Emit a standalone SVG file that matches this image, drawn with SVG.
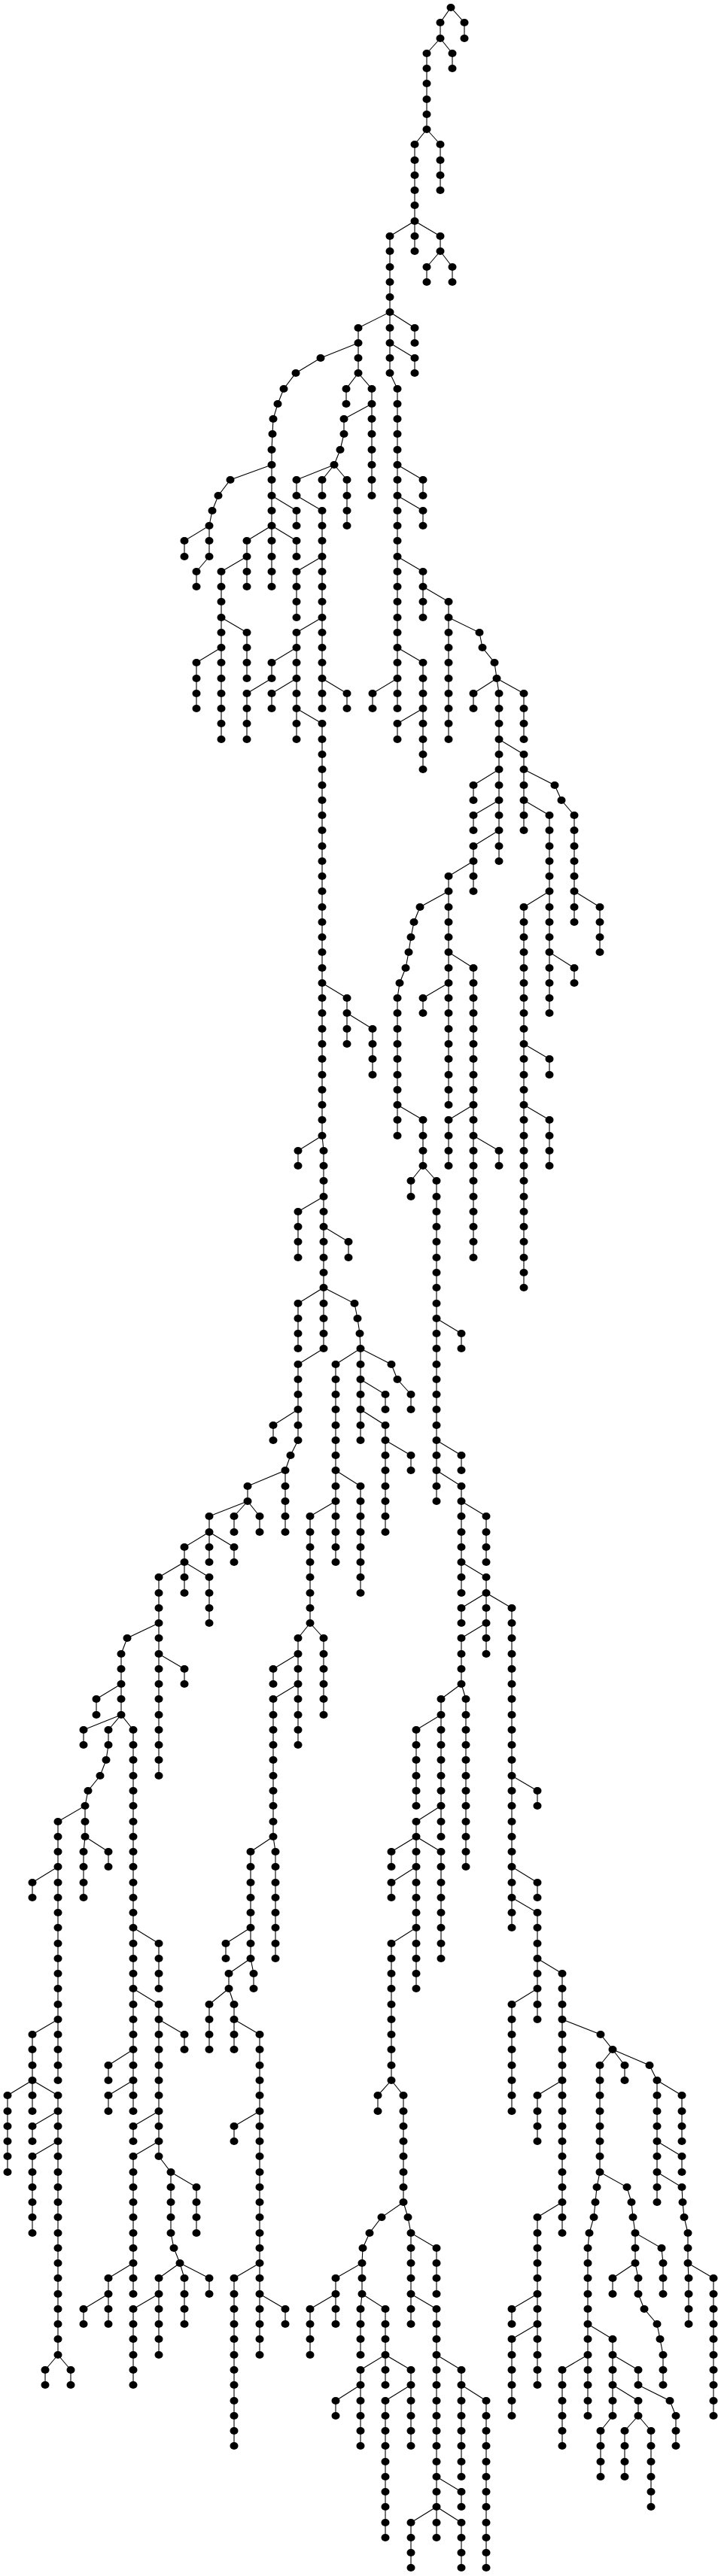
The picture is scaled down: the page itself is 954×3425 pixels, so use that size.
<svg xmlns="http://www.w3.org/2000/svg" width="954" height="3425" viewBox="0 0 954 3425">
<style>.e{fill:none;stroke:#000;stroke-width:1.1}</style>
<defs><ellipse id="d" rx="5.5" ry="5" fill="#000"/></defs>
<rect width="954" height="3425" fill="#fff"/>
<g id="connectors" class="e">
<path d="M585 30V51M617 30V51M567 71V172M601 71V91M551 192V334M585 192V253M518 314V496M585 314V334M567 355V375M601 355V375M476 436V496M551 436V456M551 476V496M361 598V780M460 517V537M494 517V659M528 517V942M457 557V577M278 699V740M245 719V740M261 760V780M394 638V659M428 638V659M461 638V699M428 679V942M394 679V699M328 719V780M394 719V740M294 760V983M394 760V821M562 638V659M562 679V699M562 760V821M596 800V983M328 841V902M261 881V942M394 841V983M361 881V902M328 922V983M361 922V942M461 922V942M562 881V1023M495 922V942M528 962V983M428 962V1510M629 922V942M663 922V1145M696 922V983M696 1003V1104M629 1044V1064M629 1084V1104M629 1125V1185M763 1084V1226M730 1084V1347M596 1165V1469M797 1206V1266M763 1287V1307M696 1206V1712M528 1327V1510M629 1287V1672M562 1327V1347M461 1327V1388M495 1368V1429M730 1408V1429M596 1489V1550M663 1530V1550M730 1489V1550M562 1489V1550M546 1570V1591M580 1570V1996M396 1530V1550M430 1530V1793M396 1611V1672M463 1651V1672M396 1733V1793M479 1793V1915M446 1814V2077M546 1854V1874M512 1854V1874M512 1895V2037M546 1935V1955M613 1773V1793M613 1935V1955M613 1976V2118M396 1814V1915M363 1895V1915M379 1955V2037M329 1976V1996M278 2016V2077M311 2016V2037M345 2016V2037M245 2057V2118M311 2057V2077M211 2097V2361M278 2097V2158M161 2199V2280M245 2219V2239M128 2259V2280M111 2300V2320M144 2300V2320M177 2300V2807M113 2401V2442M77 2422V2766M111 2462V2523M144 2462V2482M43 2503V2523M43 2705V2807M10 2786V2888M77 2786V3131M43 2827V2847M43 2867V2969M60 3151V3171M94 3151V3171M211 2584V2644M211 2665V2867M245 2705V2725M144 2746V2766M144 2786V2807M177 2827V2847M177 2867V3050M144 3029V3090M111 3070V3090M227 2888V2969M261 2908V2969M211 3029V3131M245 3029V3090M278 3029V3050M177 3070V3171M412 2016V2158M479 1976V2118M430 2178V2280M396 2178V2320M363 2219V2239M363 2259V2442M333 2462V2604M366 2462V2604M300 2584V2604M304 2624V2644M337 2624V2644M278 2665V2725M311 2665V2725M345 2705V3131M311 2827V2847M311 3029V3252M379 3070V3090M646 2016V2077M613 2138V2158M646 2097V2199M680 2138V2563M613 2178V2239M586 2259V2442M619 2259V2482M553 2300V2401M553 2422V2644M520 2462V2482M586 2462V2604M520 2503V2523M520 2584V2766M502 2786V2807M536 2786V2928M714 2381V2401M714 2503V2523M714 2543V2685M747 2624V2969M680 2665V2807M714 2786V2847M714 2948V3171M680 3070V3090M680 3110V3212M797 2746V2888M830 2746V2766M873 2766V2928M906 2786V2847M906 2867V2888M914 2969V3009M915 3029V3090M948 3029V3212M781 2989V3212M814 3110V3212M848 3151V3171M898 3212V3252M848 3192V3212M830 3232V3293M865 3232V3333M798 3232V3293M747 3151V3252M844 2969V3009M881 3009V3050M814 3029V3050M848 3029V3050M881 3131V3171M481 3009V3050M446 3029V3090M412 3070V3131M479 3070V3131M512 3070V3171M479 3151V3252M446 3192V3212M546 3151V3252M512 3192V3374M546 2969V3090M580 2989V3050M580 3070V3374M613 3151V3293M646 3192V3414M613 3313V3333M546 3354V3414M613 3354V3414"/>
<path d="M585 30L599 10L617 30M567 71L585 51L601 71M551 192L567 172L585 192M518 314L551 294L585 314M567 355L585 334L601 355M476 436L518 415L551 436M518 456L551 476M518 496L528 517M476 456L426 476L393 496L377 517L369 537L363 557L362 577L361 598M460 517L476 496L494 517M494 537L457 557M457 577L452 598L444 618M361 618L306 638L290 659L282 679L278 699L245 719M278 740L261 760M361 659L394 679M328 719L361 699L394 719M328 740L294 760M394 638L444 618L428 638M444 618L461 638M394 659L428 679M428 740L394 760M428 821L394 841M294 821L328 841M294 861L261 881M394 861L361 881M361 902L328 922M394 902L361 922M394 942L428 962M428 902L461 922M528 618L562 638M528 659L562 679M528 740L562 760M562 780L596 800M596 821L637 841L641 861L657 881L660 902M528 861L562 881M528 902L495 922M562 942L528 962M629 922L660 902L663 922M660 902L696 922M663 983L696 1003M663 1023L629 1044M663 1064L629 1084M663 1104L629 1125M696 1023L737 1044L746 1064L763 1084M696 1064L730 1084M763 1185L797 1206M730 1185L696 1206M730 1266L763 1287M629 1145L596 1165M596 1185L558 1206L550 1226L546 1246L543 1266L539 1287L531 1307L528 1327M596 1266L629 1287M596 1307L562 1327M428 1307L461 1327M461 1347L495 1368M696 1388L730 1408M696 1469L730 1489M629 1469L596 1489M629 1510L663 1530M528 1469L562 1489M546 1570L562 1550L580 1570M396 1530L428 1510L430 1530M430 1591L396 1611M430 1631L463 1651M396 1733L430 1712L471 1733L475 1753L478 1773L479 1793L446 1814M479 1793L520 1814L528 1834L546 1854M479 1834L512 1854M479 1874L512 1895M512 1915L546 1935M580 1753L613 1773M580 1915L613 1935M580 1955L613 1976M430 1793L396 1814M396 1874L363 1895M396 1915L386 1935L379 1955L329 1976M278 2016L329 1996L311 2016M329 1996L345 2016M245 2057L278 2037L311 2057M211 2097L245 2077L278 2097M211 2158L169 2178L161 2199M211 2199L245 2219M161 2239L128 2259M111 2300L161 2280L144 2300M161 2280L177 2300M144 2320L141 2340L133 2361L117 2381L113 2401L77 2422M111 2462L113 2442L144 2462M77 2482L43 2503M77 2685L43 2705M10 2786L43 2766L77 2786M77 2807L43 2827M77 2847L43 2867M60 3151L77 3131L94 3151M177 2563L211 2584M177 2644L211 2665M211 2685L245 2705M177 2725L144 2746M177 2766L144 2786M211 2807L177 2827M211 2847L177 2867M177 3009L144 3029M144 3050L111 3070M211 2867L227 2888L261 2908M227 2969L231 2989L239 3009L211 3029M239 3009L245 3029M239 3009L278 3029M211 3050L177 3070M446 1955L479 1976M446 1996L412 2016M396 2178L412 2158L430 2178M396 2199L363 2219M396 2239L363 2259M333 2462L363 2442L366 2462M333 2563L300 2584M304 2624L333 2604L337 2624M278 2665L304 2644L311 2665M311 2685L345 2705M345 2807L311 2827M345 3009L311 3029M345 3050L379 3070M613 1996L646 2016M613 2077L646 2097M613 2138L646 2118L680 2138M646 2158L613 2178M586 2259L613 2239L619 2259M586 2280L553 2300M586 2401L553 2422M520 2462L553 2442L586 2462M553 2482L520 2503M553 2563L520 2584M502 2786L520 2766L536 2786M680 2361L714 2381M680 2482L714 2503M680 2523L714 2543M714 2604L747 2624M714 2644L680 2665M747 2685L798 2705L814 2725L797 2746M814 2725L830 2746M814 2725L863 2746L873 2766M747 2766L714 2786M747 2928L714 2948M714 3050L680 3070M714 3090L680 3110M873 2766L906 2786M873 2847L906 2867M873 2888L906 2908L907 2928L909 2948L914 2969M915 3029L914 3009L948 3029M797 2888L793 2908L791 2928L789 2948L783 2969L781 2989M797 2888L833 2908L839 2928L841 2948L844 2969L879 2989L881 3009M814 3029L844 3009L848 3029M848 3050L856 3070L873 3090L877 3110L881 3131M781 3090L814 3110M781 3131L747 3151M814 3131L848 3151M848 3171L890 3192L898 3212M814 3171L848 3192M814 3212L798 3232M830 3232L848 3212L865 3232M536 2928L507 2948L491 2969L482 2989L481 3009L446 3029M446 3050L412 3070M479 3070L481 3050L512 3070M479 3151L512 3131L546 3151M479 3171L446 3192M546 3171L512 3192M536 2928L542 2948L546 2969L580 2989M546 3050L580 3070M580 3131L613 3151M613 3171L646 3192M580 3293L613 3313M546 3354L580 3333L613 3354"/>
</g>
<g id="nodes">
<g id="n599_0"><use href="#d" x="599" y="10"/></g>
<g id="n585_1"><use href="#d" x="585" y="30"/></g>
<g id="n585_2"><use href="#d" x="585" y="51"/></g>
<g id="n617_1"><use href="#d" x="617" y="30"/></g>
<g id="n617_2"><use href="#d" x="617" y="51"/></g>
<g id="n567_3"><use href="#d" x="567" y="71"/></g>
<g id="n567_4"><use href="#d" x="567" y="91"/></g>
<g id="n567_5"><use href="#d" x="567" y="111"/></g>
<g id="n567_6"><use href="#d" x="567" y="132"/></g>
<g id="n567_7"><use href="#d" x="567" y="152"/></g>
<g id="n567_8"><use href="#d" x="567" y="172"/></g>
<g id="n601_3"><use href="#d" x="601" y="71"/></g>
<g id="n601_4"><use href="#d" x="601" y="91"/></g>
<g id="n551_9"><use href="#d" x="551" y="192"/></g>
<g id="n551_10"><use href="#d" x="551" y="213"/></g>
<g id="n551_11"><use href="#d" x="551" y="233"/></g>
<g id="n551_12"><use href="#d" x="551" y="253"/></g>
<g id="n551_13"><use href="#d" x="551" y="273"/></g>
<g id="n551_14"><use href="#d" x="551" y="294"/></g>
<g id="n551_15"><use href="#d" x="551" y="314"/></g>
<g id="n551_16"><use href="#d" x="551" y="334"/></g>
<g id="n585_9"><use href="#d" x="585" y="192"/></g>
<g id="n585_10"><use href="#d" x="585" y="213"/></g>
<g id="n585_11"><use href="#d" x="585" y="233"/></g>
<g id="n585_12"><use href="#d" x="585" y="253"/></g>
<g id="n518_15"><use href="#d" x="518" y="314"/></g>
<g id="n518_16"><use href="#d" x="518" y="334"/></g>
<g id="n518_17"><use href="#d" x="518" y="355"/></g>
<g id="n518_18"><use href="#d" x="518" y="375"/></g>
<g id="n518_19"><use href="#d" x="518" y="395"/></g>
<g id="n518_20"><use href="#d" x="518" y="415"/></g>
<g id="n518_21"><use href="#d" x="518" y="436"/></g>
<g id="n518_22"><use href="#d" x="518" y="456"/></g>
<g id="n518_23"><use href="#d" x="518" y="476"/></g>
<g id="n518_24"><use href="#d" x="518" y="496"/></g>
<g id="n585_15"><use href="#d" x="585" y="314"/></g>
<g id="n585_16"><use href="#d" x="585" y="334"/></g>
<g id="n567_17"><use href="#d" x="567" y="355"/></g>
<g id="n567_18"><use href="#d" x="567" y="375"/></g>
<g id="n601_17"><use href="#d" x="601" y="355"/></g>
<g id="n601_18"><use href="#d" x="601" y="375"/></g>
<g id="n476_21"><use href="#d" x="476" y="436"/></g>
<g id="n476_22"><use href="#d" x="476" y="456"/></g>
<g id="n476_23"><use href="#d" x="476" y="476"/></g>
<g id="n476_24"><use href="#d" x="476" y="496"/></g>
<g id="n551_21"><use href="#d" x="551" y="436"/></g>
<g id="n551_22"><use href="#d" x="551" y="456"/></g>
<g id="n551_23"><use href="#d" x="551" y="476"/></g>
<g id="n551_24"><use href="#d" x="551" y="496"/></g>
<g id="n426_23"><use href="#d" x="426" y="476"/></g>
<g id="n393_24"><use href="#d" x="393" y="496"/></g>
<g id="n377_25"><use href="#d" x="377" y="517"/></g>
<g id="n369_26"><use href="#d" x="369" y="537"/></g>
<g id="n363_27"><use href="#d" x="363" y="557"/></g>
<g id="n362_28"><use href="#d" x="362" y="577"/></g>
<g id="n361_29"><use href="#d" x="361" y="598"/></g>
<g id="n361_30"><use href="#d" x="361" y="618"/></g>
<g id="n361_31"><use href="#d" x="361" y="638"/></g>
<g id="n361_32"><use href="#d" x="361" y="659"/></g>
<g id="n361_33"><use href="#d" x="361" y="679"/></g>
<g id="n361_34"><use href="#d" x="361" y="699"/></g>
<g id="n361_35"><use href="#d" x="361" y="719"/></g>
<g id="n361_36"><use href="#d" x="361" y="740"/></g>
<g id="n361_37"><use href="#d" x="361" y="760"/></g>
<g id="n361_38"><use href="#d" x="361" y="780"/></g>
<g id="n460_25"><use href="#d" x="460" y="517"/></g>
<g id="n460_26"><use href="#d" x="460" y="537"/></g>
<g id="n494_25"><use href="#d" x="494" y="517"/></g>
<g id="n494_26"><use href="#d" x="494" y="537"/></g>
<g id="n494_27"><use href="#d" x="494" y="557"/></g>
<g id="n494_28"><use href="#d" x="494" y="577"/></g>
<g id="n494_29"><use href="#d" x="494" y="598"/></g>
<g id="n494_30"><use href="#d" x="494" y="618"/></g>
<g id="n494_31"><use href="#d" x="494" y="638"/></g>
<g id="n494_32"><use href="#d" x="494" y="659"/></g>
<g id="n528_25"><use href="#d" x="528" y="517"/></g>
<g id="n528_26"><use href="#d" x="528" y="537"/></g>
<g id="n528_27"><use href="#d" x="528" y="557"/></g>
<g id="n528_28"><use href="#d" x="528" y="577"/></g>
<g id="n528_29"><use href="#d" x="528" y="598"/></g>
<g id="n528_30"><use href="#d" x="528" y="618"/></g>
<g id="n528_31"><use href="#d" x="528" y="638"/></g>
<g id="n528_32"><use href="#d" x="528" y="659"/></g>
<g id="n528_33"><use href="#d" x="528" y="679"/></g>
<g id="n528_34"><use href="#d" x="528" y="699"/></g>
<g id="n528_35"><use href="#d" x="528" y="719"/></g>
<g id="n528_36"><use href="#d" x="528" y="740"/></g>
<g id="n528_37"><use href="#d" x="528" y="760"/></g>
<g id="n528_38"><use href="#d" x="528" y="780"/></g>
<g id="n528_39"><use href="#d" x="528" y="800"/></g>
<g id="n528_40"><use href="#d" x="528" y="821"/></g>
<g id="n528_41"><use href="#d" x="528" y="841"/></g>
<g id="n528_42"><use href="#d" x="528" y="861"/></g>
<g id="n528_43"><use href="#d" x="528" y="881"/></g>
<g id="n528_44"><use href="#d" x="528" y="902"/></g>
<g id="n528_45"><use href="#d" x="528" y="922"/></g>
<g id="n528_46"><use href="#d" x="528" y="942"/></g>
<g id="n457_27"><use href="#d" x="457" y="557"/></g>
<g id="n457_28"><use href="#d" x="457" y="577"/></g>
<g id="n452_29"><use href="#d" x="452" y="598"/></g>
<g id="n444_30"><use href="#d" x="444" y="618"/></g>
<g id="n306_31"><use href="#d" x="306" y="638"/></g>
<g id="n290_32"><use href="#d" x="290" y="659"/></g>
<g id="n282_33"><use href="#d" x="282" y="679"/></g>
<g id="n278_34"><use href="#d" x="278" y="699"/></g>
<g id="n278_35"><use href="#d" x="278" y="719"/></g>
<g id="n278_36"><use href="#d" x="278" y="740"/></g>
<g id="n245_35"><use href="#d" x="245" y="719"/></g>
<g id="n245_36"><use href="#d" x="245" y="740"/></g>
<g id="n261_37"><use href="#d" x="261" y="760"/></g>
<g id="n261_38"><use href="#d" x="261" y="780"/></g>
<g id="n394_31"><use href="#d" x="394" y="638"/></g>
<g id="n394_32"><use href="#d" x="394" y="659"/></g>
<g id="n428_31"><use href="#d" x="428" y="638"/></g>
<g id="n428_32"><use href="#d" x="428" y="659"/></g>
<g id="n461_31"><use href="#d" x="461" y="638"/></g>
<g id="n461_32"><use href="#d" x="461" y="659"/></g>
<g id="n461_33"><use href="#d" x="461" y="679"/></g>
<g id="n461_34"><use href="#d" x="461" y="699"/></g>
<g id="n428_33"><use href="#d" x="428" y="679"/></g>
<g id="n428_34"><use href="#d" x="428" y="699"/></g>
<g id="n428_35"><use href="#d" x="428" y="719"/></g>
<g id="n428_36"><use href="#d" x="428" y="740"/></g>
<g id="n428_37"><use href="#d" x="428" y="760"/></g>
<g id="n428_38"><use href="#d" x="428" y="780"/></g>
<g id="n428_39"><use href="#d" x="428" y="800"/></g>
<g id="n428_40"><use href="#d" x="428" y="821"/></g>
<g id="n428_41"><use href="#d" x="428" y="841"/></g>
<g id="n428_42"><use href="#d" x="428" y="861"/></g>
<g id="n428_43"><use href="#d" x="428" y="881"/></g>
<g id="n428_44"><use href="#d" x="428" y="902"/></g>
<g id="n428_45"><use href="#d" x="428" y="922"/></g>
<g id="n428_46"><use href="#d" x="428" y="942"/></g>
<g id="n394_33"><use href="#d" x="394" y="679"/></g>
<g id="n394_34"><use href="#d" x="394" y="699"/></g>
<g id="n328_35"><use href="#d" x="328" y="719"/></g>
<g id="n328_36"><use href="#d" x="328" y="740"/></g>
<g id="n328_37"><use href="#d" x="328" y="760"/></g>
<g id="n328_38"><use href="#d" x="328" y="780"/></g>
<g id="n394_35"><use href="#d" x="394" y="719"/></g>
<g id="n394_36"><use href="#d" x="394" y="740"/></g>
<g id="n294_37"><use href="#d" x="294" y="760"/></g>
<g id="n294_38"><use href="#d" x="294" y="780"/></g>
<g id="n294_39"><use href="#d" x="294" y="800"/></g>
<g id="n294_40"><use href="#d" x="294" y="821"/></g>
<g id="n294_41"><use href="#d" x="294" y="841"/></g>
<g id="n294_42"><use href="#d" x="294" y="861"/></g>
<g id="n294_43"><use href="#d" x="294" y="881"/></g>
<g id="n294_44"><use href="#d" x="294" y="902"/></g>
<g id="n294_45"><use href="#d" x="294" y="922"/></g>
<g id="n294_46"><use href="#d" x="294" y="942"/></g>
<g id="n294_47"><use href="#d" x="294" y="962"/></g>
<g id="n294_48"><use href="#d" x="294" y="983"/></g>
<g id="n394_37"><use href="#d" x="394" y="760"/></g>
<g id="n394_38"><use href="#d" x="394" y="780"/></g>
<g id="n394_39"><use href="#d" x="394" y="800"/></g>
<g id="n394_40"><use href="#d" x="394" y="821"/></g>
<g id="n562_31"><use href="#d" x="562" y="638"/></g>
<g id="n562_32"><use href="#d" x="562" y="659"/></g>
<g id="n562_33"><use href="#d" x="562" y="679"/></g>
<g id="n562_34"><use href="#d" x="562" y="699"/></g>
<g id="n562_37"><use href="#d" x="562" y="760"/></g>
<g id="n562_38"><use href="#d" x="562" y="780"/></g>
<g id="n562_39"><use href="#d" x="562" y="800"/></g>
<g id="n562_40"><use href="#d" x="562" y="821"/></g>
<g id="n596_39"><use href="#d" x="596" y="800"/></g>
<g id="n596_40"><use href="#d" x="596" y="821"/></g>
<g id="n596_41"><use href="#d" x="596" y="841"/></g>
<g id="n596_42"><use href="#d" x="596" y="861"/></g>
<g id="n596_43"><use href="#d" x="596" y="881"/></g>
<g id="n596_44"><use href="#d" x="596" y="902"/></g>
<g id="n596_45"><use href="#d" x="596" y="922"/></g>
<g id="n596_46"><use href="#d" x="596" y="942"/></g>
<g id="n596_47"><use href="#d" x="596" y="962"/></g>
<g id="n596_48"><use href="#d" x="596" y="983"/></g>
<g id="n637_41"><use href="#d" x="637" y="841"/></g>
<g id="n641_42"><use href="#d" x="641" y="861"/></g>
<g id="n657_43"><use href="#d" x="657" y="881"/></g>
<g id="n660_44"><use href="#d" x="660" y="902"/></g>
<g id="n328_41"><use href="#d" x="328" y="841"/></g>
<g id="n328_42"><use href="#d" x="328" y="861"/></g>
<g id="n328_43"><use href="#d" x="328" y="881"/></g>
<g id="n328_44"><use href="#d" x="328" y="902"/></g>
<g id="n261_43"><use href="#d" x="261" y="881"/></g>
<g id="n261_44"><use href="#d" x="261" y="902"/></g>
<g id="n261_45"><use href="#d" x="261" y="922"/></g>
<g id="n261_46"><use href="#d" x="261" y="942"/></g>
<g id="n394_41"><use href="#d" x="394" y="841"/></g>
<g id="n394_42"><use href="#d" x="394" y="861"/></g>
<g id="n394_43"><use href="#d" x="394" y="881"/></g>
<g id="n394_44"><use href="#d" x="394" y="902"/></g>
<g id="n394_45"><use href="#d" x="394" y="922"/></g>
<g id="n394_46"><use href="#d" x="394" y="942"/></g>
<g id="n394_47"><use href="#d" x="394" y="962"/></g>
<g id="n394_48"><use href="#d" x="394" y="983"/></g>
<g id="n361_43"><use href="#d" x="361" y="881"/></g>
<g id="n361_44"><use href="#d" x="361" y="902"/></g>
<g id="n328_45"><use href="#d" x="328" y="922"/></g>
<g id="n328_46"><use href="#d" x="328" y="942"/></g>
<g id="n328_47"><use href="#d" x="328" y="962"/></g>
<g id="n328_48"><use href="#d" x="328" y="983"/></g>
<g id="n361_45"><use href="#d" x="361" y="922"/></g>
<g id="n361_46"><use href="#d" x="361" y="942"/></g>
<g id="n461_45"><use href="#d" x="461" y="922"/></g>
<g id="n461_46"><use href="#d" x="461" y="942"/></g>
<g id="n562_43"><use href="#d" x="562" y="881"/></g>
<g id="n562_44"><use href="#d" x="562" y="902"/></g>
<g id="n562_45"><use href="#d" x="562" y="922"/></g>
<g id="n562_46"><use href="#d" x="562" y="942"/></g>
<g id="n562_47"><use href="#d" x="562" y="962"/></g>
<g id="n562_48"><use href="#d" x="562" y="983"/></g>
<g id="n562_49"><use href="#d" x="562" y="1003"/></g>
<g id="n562_50"><use href="#d" x="562" y="1023"/></g>
<g id="n495_45"><use href="#d" x="495" y="922"/></g>
<g id="n495_46"><use href="#d" x="495" y="942"/></g>
<g id="n528_47"><use href="#d" x="528" y="962"/></g>
<g id="n528_48"><use href="#d" x="528" y="983"/></g>
<g id="n428_47"><use href="#d" x="428" y="962"/></g>
<g id="n428_48"><use href="#d" x="428" y="983"/></g>
<g id="n428_49"><use href="#d" x="428" y="1003"/></g>
<g id="n428_50"><use href="#d" x="428" y="1023"/></g>
<g id="n428_51"><use href="#d" x="428" y="1044"/></g>
<g id="n428_52"><use href="#d" x="428" y="1064"/></g>
<g id="n428_53"><use href="#d" x="428" y="1084"/></g>
<g id="n428_54"><use href="#d" x="428" y="1104"/></g>
<g id="n428_55"><use href="#d" x="428" y="1125"/></g>
<g id="n428_56"><use href="#d" x="428" y="1145"/></g>
<g id="n428_57"><use href="#d" x="428" y="1165"/></g>
<g id="n428_58"><use href="#d" x="428" y="1185"/></g>
<g id="n428_59"><use href="#d" x="428" y="1206"/></g>
<g id="n428_60"><use href="#d" x="428" y="1226"/></g>
<g id="n428_61"><use href="#d" x="428" y="1246"/></g>
<g id="n428_62"><use href="#d" x="428" y="1266"/></g>
<g id="n428_63"><use href="#d" x="428" y="1287"/></g>
<g id="n428_64"><use href="#d" x="428" y="1307"/></g>
<g id="n428_65"><use href="#d" x="428" y="1327"/></g>
<g id="n428_66"><use href="#d" x="428" y="1347"/></g>
<g id="n428_67"><use href="#d" x="428" y="1368"/></g>
<g id="n428_68"><use href="#d" x="428" y="1388"/></g>
<g id="n428_69"><use href="#d" x="428" y="1408"/></g>
<g id="n428_70"><use href="#d" x="428" y="1429"/></g>
<g id="n428_71"><use href="#d" x="428" y="1449"/></g>
<g id="n428_72"><use href="#d" x="428" y="1469"/></g>
<g id="n428_73"><use href="#d" x="428" y="1489"/></g>
<g id="n428_74"><use href="#d" x="428" y="1510"/></g>
<g id="n629_45"><use href="#d" x="629" y="922"/></g>
<g id="n629_46"><use href="#d" x="629" y="942"/></g>
<g id="n663_45"><use href="#d" x="663" y="922"/></g>
<g id="n663_46"><use href="#d" x="663" y="942"/></g>
<g id="n663_47"><use href="#d" x="663" y="962"/></g>
<g id="n663_48"><use href="#d" x="663" y="983"/></g>
<g id="n663_49"><use href="#d" x="663" y="1003"/></g>
<g id="n663_50"><use href="#d" x="663" y="1023"/></g>
<g id="n663_51"><use href="#d" x="663" y="1044"/></g>
<g id="n663_52"><use href="#d" x="663" y="1064"/></g>
<g id="n663_53"><use href="#d" x="663" y="1084"/></g>
<g id="n663_54"><use href="#d" x="663" y="1104"/></g>
<g id="n663_55"><use href="#d" x="663" y="1125"/></g>
<g id="n663_56"><use href="#d" x="663" y="1145"/></g>
<g id="n696_45"><use href="#d" x="696" y="922"/></g>
<g id="n696_46"><use href="#d" x="696" y="942"/></g>
<g id="n696_47"><use href="#d" x="696" y="962"/></g>
<g id="n696_48"><use href="#d" x="696" y="983"/></g>
<g id="n696_49"><use href="#d" x="696" y="1003"/></g>
<g id="n696_50"><use href="#d" x="696" y="1023"/></g>
<g id="n696_51"><use href="#d" x="696" y="1044"/></g>
<g id="n696_52"><use href="#d" x="696" y="1064"/></g>
<g id="n696_53"><use href="#d" x="696" y="1084"/></g>
<g id="n696_54"><use href="#d" x="696" y="1104"/></g>
<g id="n629_51"><use href="#d" x="629" y="1044"/></g>
<g id="n629_52"><use href="#d" x="629" y="1064"/></g>
<g id="n629_53"><use href="#d" x="629" y="1084"/></g>
<g id="n629_54"><use href="#d" x="629" y="1104"/></g>
<g id="n629_55"><use href="#d" x="629" y="1125"/></g>
<g id="n629_56"><use href="#d" x="629" y="1145"/></g>
<g id="n629_57"><use href="#d" x="629" y="1165"/></g>
<g id="n629_58"><use href="#d" x="629" y="1185"/></g>
<g id="n737_51"><use href="#d" x="737" y="1044"/></g>
<g id="n746_52"><use href="#d" x="746" y="1064"/></g>
<g id="n763_53"><use href="#d" x="763" y="1084"/></g>
<g id="n763_54"><use href="#d" x="763" y="1104"/></g>
<g id="n763_55"><use href="#d" x="763" y="1125"/></g>
<g id="n763_56"><use href="#d" x="763" y="1145"/></g>
<g id="n763_57"><use href="#d" x="763" y="1165"/></g>
<g id="n763_58"><use href="#d" x="763" y="1185"/></g>
<g id="n763_59"><use href="#d" x="763" y="1206"/></g>
<g id="n763_60"><use href="#d" x="763" y="1226"/></g>
<g id="n730_53"><use href="#d" x="730" y="1084"/></g>
<g id="n730_54"><use href="#d" x="730" y="1104"/></g>
<g id="n730_55"><use href="#d" x="730" y="1125"/></g>
<g id="n730_56"><use href="#d" x="730" y="1145"/></g>
<g id="n730_57"><use href="#d" x="730" y="1165"/></g>
<g id="n730_58"><use href="#d" x="730" y="1185"/></g>
<g id="n730_59"><use href="#d" x="730" y="1206"/></g>
<g id="n730_60"><use href="#d" x="730" y="1226"/></g>
<g id="n730_61"><use href="#d" x="730" y="1246"/></g>
<g id="n730_62"><use href="#d" x="730" y="1266"/></g>
<g id="n730_63"><use href="#d" x="730" y="1287"/></g>
<g id="n730_64"><use href="#d" x="730" y="1307"/></g>
<g id="n730_65"><use href="#d" x="730" y="1327"/></g>
<g id="n730_66"><use href="#d" x="730" y="1347"/></g>
<g id="n596_57"><use href="#d" x="596" y="1165"/></g>
<g id="n596_58"><use href="#d" x="596" y="1185"/></g>
<g id="n596_59"><use href="#d" x="596" y="1206"/></g>
<g id="n596_60"><use href="#d" x="596" y="1226"/></g>
<g id="n596_61"><use href="#d" x="596" y="1246"/></g>
<g id="n596_62"><use href="#d" x="596" y="1266"/></g>
<g id="n596_63"><use href="#d" x="596" y="1287"/></g>
<g id="n596_64"><use href="#d" x="596" y="1307"/></g>
<g id="n596_65"><use href="#d" x="596" y="1327"/></g>
<g id="n596_66"><use href="#d" x="596" y="1347"/></g>
<g id="n596_67"><use href="#d" x="596" y="1368"/></g>
<g id="n596_68"><use href="#d" x="596" y="1388"/></g>
<g id="n596_69"><use href="#d" x="596" y="1408"/></g>
<g id="n596_70"><use href="#d" x="596" y="1429"/></g>
<g id="n596_71"><use href="#d" x="596" y="1449"/></g>
<g id="n596_72"><use href="#d" x="596" y="1469"/></g>
<g id="n797_59"><use href="#d" x="797" y="1206"/></g>
<g id="n797_60"><use href="#d" x="797" y="1226"/></g>
<g id="n797_61"><use href="#d" x="797" y="1246"/></g>
<g id="n797_62"><use href="#d" x="797" y="1266"/></g>
<g id="n763_63"><use href="#d" x="763" y="1287"/></g>
<g id="n763_64"><use href="#d" x="763" y="1307"/></g>
<g id="n696_59"><use href="#d" x="696" y="1206"/></g>
<g id="n696_60"><use href="#d" x="696" y="1226"/></g>
<g id="n696_61"><use href="#d" x="696" y="1246"/></g>
<g id="n696_62"><use href="#d" x="696" y="1266"/></g>
<g id="n696_63"><use href="#d" x="696" y="1287"/></g>
<g id="n696_64"><use href="#d" x="696" y="1307"/></g>
<g id="n696_65"><use href="#d" x="696" y="1327"/></g>
<g id="n696_66"><use href="#d" x="696" y="1347"/></g>
<g id="n696_67"><use href="#d" x="696" y="1368"/></g>
<g id="n696_68"><use href="#d" x="696" y="1388"/></g>
<g id="n696_69"><use href="#d" x="696" y="1408"/></g>
<g id="n696_70"><use href="#d" x="696" y="1429"/></g>
<g id="n696_71"><use href="#d" x="696" y="1449"/></g>
<g id="n696_72"><use href="#d" x="696" y="1469"/></g>
<g id="n696_73"><use href="#d" x="696" y="1489"/></g>
<g id="n696_74"><use href="#d" x="696" y="1510"/></g>
<g id="n696_75"><use href="#d" x="696" y="1530"/></g>
<g id="n696_76"><use href="#d" x="696" y="1550"/></g>
<g id="n696_77"><use href="#d" x="696" y="1570"/></g>
<g id="n696_78"><use href="#d" x="696" y="1591"/></g>
<g id="n696_79"><use href="#d" x="696" y="1611"/></g>
<g id="n696_80"><use href="#d" x="696" y="1631"/></g>
<g id="n696_81"><use href="#d" x="696" y="1651"/></g>
<g id="n696_82"><use href="#d" x="696" y="1672"/></g>
<g id="n696_83"><use href="#d" x="696" y="1692"/></g>
<g id="n696_84"><use href="#d" x="696" y="1712"/></g>
<g id="n558_59"><use href="#d" x="558" y="1206"/></g>
<g id="n550_60"><use href="#d" x="550" y="1226"/></g>
<g id="n546_61"><use href="#d" x="546" y="1246"/></g>
<g id="n543_62"><use href="#d" x="543" y="1266"/></g>
<g id="n539_63"><use href="#d" x="539" y="1287"/></g>
<g id="n531_64"><use href="#d" x="531" y="1307"/></g>
<g id="n528_65"><use href="#d" x="528" y="1327"/></g>
<g id="n528_66"><use href="#d" x="528" y="1347"/></g>
<g id="n528_67"><use href="#d" x="528" y="1368"/></g>
<g id="n528_68"><use href="#d" x="528" y="1388"/></g>
<g id="n528_69"><use href="#d" x="528" y="1408"/></g>
<g id="n528_70"><use href="#d" x="528" y="1429"/></g>
<g id="n528_71"><use href="#d" x="528" y="1449"/></g>
<g id="n528_72"><use href="#d" x="528" y="1469"/></g>
<g id="n528_73"><use href="#d" x="528" y="1489"/></g>
<g id="n528_74"><use href="#d" x="528" y="1510"/></g>
<g id="n629_63"><use href="#d" x="629" y="1287"/></g>
<g id="n629_64"><use href="#d" x="629" y="1307"/></g>
<g id="n629_65"><use href="#d" x="629" y="1327"/></g>
<g id="n629_66"><use href="#d" x="629" y="1347"/></g>
<g id="n629_67"><use href="#d" x="629" y="1368"/></g>
<g id="n629_68"><use href="#d" x="629" y="1388"/></g>
<g id="n629_69"><use href="#d" x="629" y="1408"/></g>
<g id="n629_70"><use href="#d" x="629" y="1429"/></g>
<g id="n629_71"><use href="#d" x="629" y="1449"/></g>
<g id="n629_72"><use href="#d" x="629" y="1469"/></g>
<g id="n629_73"><use href="#d" x="629" y="1489"/></g>
<g id="n629_74"><use href="#d" x="629" y="1510"/></g>
<g id="n629_75"><use href="#d" x="629" y="1530"/></g>
<g id="n629_76"><use href="#d" x="629" y="1550"/></g>
<g id="n629_77"><use href="#d" x="629" y="1570"/></g>
<g id="n629_78"><use href="#d" x="629" y="1591"/></g>
<g id="n629_79"><use href="#d" x="629" y="1611"/></g>
<g id="n629_80"><use href="#d" x="629" y="1631"/></g>
<g id="n629_81"><use href="#d" x="629" y="1651"/></g>
<g id="n629_82"><use href="#d" x="629" y="1672"/></g>
<g id="n562_65"><use href="#d" x="562" y="1327"/></g>
<g id="n562_66"><use href="#d" x="562" y="1347"/></g>
<g id="n461_65"><use href="#d" x="461" y="1327"/></g>
<g id="n461_66"><use href="#d" x="461" y="1347"/></g>
<g id="n461_67"><use href="#d" x="461" y="1368"/></g>
<g id="n461_68"><use href="#d" x="461" y="1388"/></g>
<g id="n495_67"><use href="#d" x="495" y="1368"/></g>
<g id="n495_68"><use href="#d" x="495" y="1388"/></g>
<g id="n495_69"><use href="#d" x="495" y="1408"/></g>
<g id="n495_70"><use href="#d" x="495" y="1429"/></g>
<g id="n730_69"><use href="#d" x="730" y="1408"/></g>
<g id="n730_70"><use href="#d" x="730" y="1429"/></g>
<g id="n596_73"><use href="#d" x="596" y="1489"/></g>
<g id="n596_74"><use href="#d" x="596" y="1510"/></g>
<g id="n596_75"><use href="#d" x="596" y="1530"/></g>
<g id="n596_76"><use href="#d" x="596" y="1550"/></g>
<g id="n663_75"><use href="#d" x="663" y="1530"/></g>
<g id="n663_76"><use href="#d" x="663" y="1550"/></g>
<g id="n730_73"><use href="#d" x="730" y="1489"/></g>
<g id="n730_74"><use href="#d" x="730" y="1510"/></g>
<g id="n730_75"><use href="#d" x="730" y="1530"/></g>
<g id="n730_76"><use href="#d" x="730" y="1550"/></g>
<g id="n562_73"><use href="#d" x="562" y="1489"/></g>
<g id="n562_74"><use href="#d" x="562" y="1510"/></g>
<g id="n562_75"><use href="#d" x="562" y="1530"/></g>
<g id="n562_76"><use href="#d" x="562" y="1550"/></g>
<g id="n546_77"><use href="#d" x="546" y="1570"/></g>
<g id="n546_78"><use href="#d" x="546" y="1591"/></g>
<g id="n580_77"><use href="#d" x="580" y="1570"/></g>
<g id="n580_78"><use href="#d" x="580" y="1591"/></g>
<g id="n580_79"><use href="#d" x="580" y="1611"/></g>
<g id="n580_80"><use href="#d" x="580" y="1631"/></g>
<g id="n580_81"><use href="#d" x="580" y="1651"/></g>
<g id="n580_82"><use href="#d" x="580" y="1672"/></g>
<g id="n580_83"><use href="#d" x="580" y="1692"/></g>
<g id="n580_84"><use href="#d" x="580" y="1712"/></g>
<g id="n580_85"><use href="#d" x="580" y="1733"/></g>
<g id="n580_86"><use href="#d" x="580" y="1753"/></g>
<g id="n580_87"><use href="#d" x="580" y="1773"/></g>
<g id="n580_88"><use href="#d" x="580" y="1793"/></g>
<g id="n580_89"><use href="#d" x="580" y="1814"/></g>
<g id="n580_90"><use href="#d" x="580" y="1834"/></g>
<g id="n580_91"><use href="#d" x="580" y="1854"/></g>
<g id="n580_92"><use href="#d" x="580" y="1874"/></g>
<g id="n580_93"><use href="#d" x="580" y="1895"/></g>
<g id="n580_94"><use href="#d" x="580" y="1915"/></g>
<g id="n580_95"><use href="#d" x="580" y="1935"/></g>
<g id="n580_96"><use href="#d" x="580" y="1955"/></g>
<g id="n580_97"><use href="#d" x="580" y="1976"/></g>
<g id="n580_98"><use href="#d" x="580" y="1996"/></g>
<g id="n396_75"><use href="#d" x="396" y="1530"/></g>
<g id="n396_76"><use href="#d" x="396" y="1550"/></g>
<g id="n430_75"><use href="#d" x="430" y="1530"/></g>
<g id="n430_76"><use href="#d" x="430" y="1550"/></g>
<g id="n430_77"><use href="#d" x="430" y="1570"/></g>
<g id="n430_78"><use href="#d" x="430" y="1591"/></g>
<g id="n430_79"><use href="#d" x="430" y="1611"/></g>
<g id="n430_80"><use href="#d" x="430" y="1631"/></g>
<g id="n430_81"><use href="#d" x="430" y="1651"/></g>
<g id="n430_82"><use href="#d" x="430" y="1672"/></g>
<g id="n430_83"><use href="#d" x="430" y="1692"/></g>
<g id="n430_84"><use href="#d" x="430" y="1712"/></g>
<g id="n430_85"><use href="#d" x="430" y="1733"/></g>
<g id="n430_86"><use href="#d" x="430" y="1753"/></g>
<g id="n430_87"><use href="#d" x="430" y="1773"/></g>
<g id="n430_88"><use href="#d" x="430" y="1793"/></g>
<g id="n396_79"><use href="#d" x="396" y="1611"/></g>
<g id="n396_80"><use href="#d" x="396" y="1631"/></g>
<g id="n396_81"><use href="#d" x="396" y="1651"/></g>
<g id="n396_82"><use href="#d" x="396" y="1672"/></g>
<g id="n463_81"><use href="#d" x="463" y="1651"/></g>
<g id="n463_82"><use href="#d" x="463" y="1672"/></g>
<g id="n396_85"><use href="#d" x="396" y="1733"/></g>
<g id="n396_86"><use href="#d" x="396" y="1753"/></g>
<g id="n396_87"><use href="#d" x="396" y="1773"/></g>
<g id="n396_88"><use href="#d" x="396" y="1793"/></g>
<g id="n471_85"><use href="#d" x="471" y="1733"/></g>
<g id="n475_86"><use href="#d" x="475" y="1753"/></g>
<g id="n478_87"><use href="#d" x="478" y="1773"/></g>
<g id="n479_88"><use href="#d" x="479" y="1793"/></g>
<g id="n479_89"><use href="#d" x="479" y="1814"/></g>
<g id="n479_90"><use href="#d" x="479" y="1834"/></g>
<g id="n479_91"><use href="#d" x="479" y="1854"/></g>
<g id="n479_92"><use href="#d" x="479" y="1874"/></g>
<g id="n479_93"><use href="#d" x="479" y="1895"/></g>
<g id="n479_94"><use href="#d" x="479" y="1915"/></g>
<g id="n446_89"><use href="#d" x="446" y="1814"/></g>
<g id="n446_90"><use href="#d" x="446" y="1834"/></g>
<g id="n446_91"><use href="#d" x="446" y="1854"/></g>
<g id="n446_92"><use href="#d" x="446" y="1874"/></g>
<g id="n446_93"><use href="#d" x="446" y="1895"/></g>
<g id="n446_94"><use href="#d" x="446" y="1915"/></g>
<g id="n446_95"><use href="#d" x="446" y="1935"/></g>
<g id="n446_96"><use href="#d" x="446" y="1955"/></g>
<g id="n446_97"><use href="#d" x="446" y="1976"/></g>
<g id="n446_98"><use href="#d" x="446" y="1996"/></g>
<g id="n446_99"><use href="#d" x="446" y="2016"/></g>
<g id="n446_100"><use href="#d" x="446" y="2037"/></g>
<g id="n446_101"><use href="#d" x="446" y="2057"/></g>
<g id="n446_102"><use href="#d" x="446" y="2077"/></g>
<g id="n520_89"><use href="#d" x="520" y="1814"/></g>
<g id="n528_90"><use href="#d" x="528" y="1834"/></g>
<g id="n546_91"><use href="#d" x="546" y="1854"/></g>
<g id="n546_92"><use href="#d" x="546" y="1874"/></g>
<g id="n512_91"><use href="#d" x="512" y="1854"/></g>
<g id="n512_92"><use href="#d" x="512" y="1874"/></g>
<g id="n512_93"><use href="#d" x="512" y="1895"/></g>
<g id="n512_94"><use href="#d" x="512" y="1915"/></g>
<g id="n512_95"><use href="#d" x="512" y="1935"/></g>
<g id="n512_96"><use href="#d" x="512" y="1955"/></g>
<g id="n512_97"><use href="#d" x="512" y="1976"/></g>
<g id="n512_98"><use href="#d" x="512" y="1996"/></g>
<g id="n512_99"><use href="#d" x="512" y="2016"/></g>
<g id="n512_100"><use href="#d" x="512" y="2037"/></g>
<g id="n546_95"><use href="#d" x="546" y="1935"/></g>
<g id="n546_96"><use href="#d" x="546" y="1955"/></g>
<g id="n613_87"><use href="#d" x="613" y="1773"/></g>
<g id="n613_88"><use href="#d" x="613" y="1793"/></g>
<g id="n613_95"><use href="#d" x="613" y="1935"/></g>
<g id="n613_96"><use href="#d" x="613" y="1955"/></g>
<g id="n613_97"><use href="#d" x="613" y="1976"/></g>
<g id="n613_98"><use href="#d" x="613" y="1996"/></g>
<g id="n613_99"><use href="#d" x="613" y="2016"/></g>
<g id="n613_100"><use href="#d" x="613" y="2037"/></g>
<g id="n613_101"><use href="#d" x="613" y="2057"/></g>
<g id="n613_102"><use href="#d" x="613" y="2077"/></g>
<g id="n613_103"><use href="#d" x="613" y="2097"/></g>
<g id="n613_104"><use href="#d" x="613" y="2118"/></g>
<g id="n396_89"><use href="#d" x="396" y="1814"/></g>
<g id="n396_90"><use href="#d" x="396" y="1834"/></g>
<g id="n396_91"><use href="#d" x="396" y="1854"/></g>
<g id="n396_92"><use href="#d" x="396" y="1874"/></g>
<g id="n396_93"><use href="#d" x="396" y="1895"/></g>
<g id="n396_94"><use href="#d" x="396" y="1915"/></g>
<g id="n363_93"><use href="#d" x="363" y="1895"/></g>
<g id="n363_94"><use href="#d" x="363" y="1915"/></g>
<g id="n386_95"><use href="#d" x="386" y="1935"/></g>
<g id="n379_96"><use href="#d" x="379" y="1955"/></g>
<g id="n379_97"><use href="#d" x="379" y="1976"/></g>
<g id="n379_98"><use href="#d" x="379" y="1996"/></g>
<g id="n379_99"><use href="#d" x="379" y="2016"/></g>
<g id="n379_100"><use href="#d" x="379" y="2037"/></g>
<g id="n329_97"><use href="#d" x="329" y="1976"/></g>
<g id="n329_98"><use href="#d" x="329" y="1996"/></g>
<g id="n278_99"><use href="#d" x="278" y="2016"/></g>
<g id="n278_100"><use href="#d" x="278" y="2037"/></g>
<g id="n278_101"><use href="#d" x="278" y="2057"/></g>
<g id="n278_102"><use href="#d" x="278" y="2077"/></g>
<g id="n311_99"><use href="#d" x="311" y="2016"/></g>
<g id="n311_100"><use href="#d" x="311" y="2037"/></g>
<g id="n345_99"><use href="#d" x="345" y="2016"/></g>
<g id="n345_100"><use href="#d" x="345" y="2037"/></g>
<g id="n245_101"><use href="#d" x="245" y="2057"/></g>
<g id="n245_102"><use href="#d" x="245" y="2077"/></g>
<g id="n245_103"><use href="#d" x="245" y="2097"/></g>
<g id="n245_104"><use href="#d" x="245" y="2118"/></g>
<g id="n311_101"><use href="#d" x="311" y="2057"/></g>
<g id="n311_102"><use href="#d" x="311" y="2077"/></g>
<g id="n211_103"><use href="#d" x="211" y="2097"/></g>
<g id="n211_104"><use href="#d" x="211" y="2118"/></g>
<g id="n211_105"><use href="#d" x="211" y="2138"/></g>
<g id="n211_106"><use href="#d" x="211" y="2158"/></g>
<g id="n211_107"><use href="#d" x="211" y="2178"/></g>
<g id="n211_108"><use href="#d" x="211" y="2199"/></g>
<g id="n211_109"><use href="#d" x="211" y="2219"/></g>
<g id="n211_110"><use href="#d" x="211" y="2239"/></g>
<g id="n211_111"><use href="#d" x="211" y="2259"/></g>
<g id="n211_112"><use href="#d" x="211" y="2280"/></g>
<g id="n211_113"><use href="#d" x="211" y="2300"/></g>
<g id="n211_114"><use href="#d" x="211" y="2320"/></g>
<g id="n211_115"><use href="#d" x="211" y="2340"/></g>
<g id="n211_116"><use href="#d" x="211" y="2361"/></g>
<g id="n278_103"><use href="#d" x="278" y="2097"/></g>
<g id="n278_104"><use href="#d" x="278" y="2118"/></g>
<g id="n278_105"><use href="#d" x="278" y="2138"/></g>
<g id="n278_106"><use href="#d" x="278" y="2158"/></g>
<g id="n169_107"><use href="#d" x="169" y="2178"/></g>
<g id="n161_108"><use href="#d" x="161" y="2199"/></g>
<g id="n161_109"><use href="#d" x="161" y="2219"/></g>
<g id="n161_110"><use href="#d" x="161" y="2239"/></g>
<g id="n161_111"><use href="#d" x="161" y="2259"/></g>
<g id="n161_112"><use href="#d" x="161" y="2280"/></g>
<g id="n245_109"><use href="#d" x="245" y="2219"/></g>
<g id="n245_110"><use href="#d" x="245" y="2239"/></g>
<g id="n128_111"><use href="#d" x="128" y="2259"/></g>
<g id="n128_112"><use href="#d" x="128" y="2280"/></g>
<g id="n111_113"><use href="#d" x="111" y="2300"/></g>
<g id="n111_114"><use href="#d" x="111" y="2320"/></g>
<g id="n144_113"><use href="#d" x="144" y="2300"/></g>
<g id="n144_114"><use href="#d" x="144" y="2320"/></g>
<g id="n177_113"><use href="#d" x="177" y="2300"/></g>
<g id="n177_114"><use href="#d" x="177" y="2320"/></g>
<g id="n177_115"><use href="#d" x="177" y="2340"/></g>
<g id="n177_116"><use href="#d" x="177" y="2361"/></g>
<g id="n177_117"><use href="#d" x="177" y="2381"/></g>
<g id="n177_118"><use href="#d" x="177" y="2401"/></g>
<g id="n177_119"><use href="#d" x="177" y="2422"/></g>
<g id="n177_120"><use href="#d" x="177" y="2442"/></g>
<g id="n177_121"><use href="#d" x="177" y="2462"/></g>
<g id="n177_122"><use href="#d" x="177" y="2482"/></g>
<g id="n177_123"><use href="#d" x="177" y="2503"/></g>
<g id="n177_124"><use href="#d" x="177" y="2523"/></g>
<g id="n177_125"><use href="#d" x="177" y="2543"/></g>
<g id="n177_126"><use href="#d" x="177" y="2563"/></g>
<g id="n177_127"><use href="#d" x="177" y="2584"/></g>
<g id="n177_128"><use href="#d" x="177" y="2604"/></g>
<g id="n177_129"><use href="#d" x="177" y="2624"/></g>
<g id="n177_130"><use href="#d" x="177" y="2644"/></g>
<g id="n177_131"><use href="#d" x="177" y="2665"/></g>
<g id="n177_132"><use href="#d" x="177" y="2685"/></g>
<g id="n177_133"><use href="#d" x="177" y="2705"/></g>
<g id="n177_134"><use href="#d" x="177" y="2725"/></g>
<g id="n177_135"><use href="#d" x="177" y="2746"/></g>
<g id="n177_136"><use href="#d" x="177" y="2766"/></g>
<g id="n177_137"><use href="#d" x="177" y="2786"/></g>
<g id="n177_138"><use href="#d" x="177" y="2807"/></g>
<g id="n141_115"><use href="#d" x="141" y="2340"/></g>
<g id="n133_116"><use href="#d" x="133" y="2361"/></g>
<g id="n117_117"><use href="#d" x="117" y="2381"/></g>
<g id="n113_118"><use href="#d" x="113" y="2401"/></g>
<g id="n113_119"><use href="#d" x="113" y="2422"/></g>
<g id="n113_120"><use href="#d" x="113" y="2442"/></g>
<g id="n77_119"><use href="#d" x="77" y="2422"/></g>
<g id="n77_120"><use href="#d" x="77" y="2442"/></g>
<g id="n77_121"><use href="#d" x="77" y="2462"/></g>
<g id="n77_122"><use href="#d" x="77" y="2482"/></g>
<g id="n77_123"><use href="#d" x="77" y="2503"/></g>
<g id="n77_124"><use href="#d" x="77" y="2523"/></g>
<g id="n77_125"><use href="#d" x="77" y="2543"/></g>
<g id="n77_126"><use href="#d" x="77" y="2563"/></g>
<g id="n77_127"><use href="#d" x="77" y="2584"/></g>
<g id="n77_128"><use href="#d" x="77" y="2604"/></g>
<g id="n77_129"><use href="#d" x="77" y="2624"/></g>
<g id="n77_130"><use href="#d" x="77" y="2644"/></g>
<g id="n77_131"><use href="#d" x="77" y="2665"/></g>
<g id="n77_132"><use href="#d" x="77" y="2685"/></g>
<g id="n77_133"><use href="#d" x="77" y="2705"/></g>
<g id="n77_134"><use href="#d" x="77" y="2725"/></g>
<g id="n77_135"><use href="#d" x="77" y="2746"/></g>
<g id="n77_136"><use href="#d" x="77" y="2766"/></g>
<g id="n111_121"><use href="#d" x="111" y="2462"/></g>
<g id="n111_122"><use href="#d" x="111" y="2482"/></g>
<g id="n111_123"><use href="#d" x="111" y="2503"/></g>
<g id="n111_124"><use href="#d" x="111" y="2523"/></g>
<g id="n144_121"><use href="#d" x="144" y="2462"/></g>
<g id="n144_122"><use href="#d" x="144" y="2482"/></g>
<g id="n43_123"><use href="#d" x="43" y="2503"/></g>
<g id="n43_124"><use href="#d" x="43" y="2523"/></g>
<g id="n43_133"><use href="#d" x="43" y="2705"/></g>
<g id="n43_134"><use href="#d" x="43" y="2725"/></g>
<g id="n43_135"><use href="#d" x="43" y="2746"/></g>
<g id="n43_136"><use href="#d" x="43" y="2766"/></g>
<g id="n43_137"><use href="#d" x="43" y="2786"/></g>
<g id="n43_138"><use href="#d" x="43" y="2807"/></g>
<g id="n10_137"><use href="#d" x="10" y="2786"/></g>
<g id="n10_138"><use href="#d" x="10" y="2807"/></g>
<g id="n10_139"><use href="#d" x="10" y="2827"/></g>
<g id="n10_140"><use href="#d" x="10" y="2847"/></g>
<g id="n10_141"><use href="#d" x="10" y="2867"/></g>
<g id="n10_142"><use href="#d" x="10" y="2888"/></g>
<g id="n77_137"><use href="#d" x="77" y="2786"/></g>
<g id="n77_138"><use href="#d" x="77" y="2807"/></g>
<g id="n77_139"><use href="#d" x="77" y="2827"/></g>
<g id="n77_140"><use href="#d" x="77" y="2847"/></g>
<g id="n77_141"><use href="#d" x="77" y="2867"/></g>
<g id="n77_142"><use href="#d" x="77" y="2888"/></g>
<g id="n77_143"><use href="#d" x="77" y="2908"/></g>
<g id="n77_144"><use href="#d" x="77" y="2928"/></g>
<g id="n77_145"><use href="#d" x="77" y="2948"/></g>
<g id="n77_146"><use href="#d" x="77" y="2969"/></g>
<g id="n77_147"><use href="#d" x="77" y="2989"/></g>
<g id="n77_148"><use href="#d" x="77" y="3009"/></g>
<g id="n77_149"><use href="#d" x="77" y="3029"/></g>
<g id="n77_150"><use href="#d" x="77" y="3050"/></g>
<g id="n77_151"><use href="#d" x="77" y="3070"/></g>
<g id="n77_152"><use href="#d" x="77" y="3090"/></g>
<g id="n77_153"><use href="#d" x="77" y="3110"/></g>
<g id="n77_154"><use href="#d" x="77" y="3131"/></g>
<g id="n43_139"><use href="#d" x="43" y="2827"/></g>
<g id="n43_140"><use href="#d" x="43" y="2847"/></g>
<g id="n43_141"><use href="#d" x="43" y="2867"/></g>
<g id="n43_142"><use href="#d" x="43" y="2888"/></g>
<g id="n43_143"><use href="#d" x="43" y="2908"/></g>
<g id="n43_144"><use href="#d" x="43" y="2928"/></g>
<g id="n43_145"><use href="#d" x="43" y="2948"/></g>
<g id="n43_146"><use href="#d" x="43" y="2969"/></g>
<g id="n60_155"><use href="#d" x="60" y="3151"/></g>
<g id="n60_156"><use href="#d" x="60" y="3171"/></g>
<g id="n94_155"><use href="#d" x="94" y="3151"/></g>
<g id="n94_156"><use href="#d" x="94" y="3171"/></g>
<g id="n211_127"><use href="#d" x="211" y="2584"/></g>
<g id="n211_128"><use href="#d" x="211" y="2604"/></g>
<g id="n211_129"><use href="#d" x="211" y="2624"/></g>
<g id="n211_130"><use href="#d" x="211" y="2644"/></g>
<g id="n211_131"><use href="#d" x="211" y="2665"/></g>
<g id="n211_132"><use href="#d" x="211" y="2685"/></g>
<g id="n211_133"><use href="#d" x="211" y="2705"/></g>
<g id="n211_134"><use href="#d" x="211" y="2725"/></g>
<g id="n211_135"><use href="#d" x="211" y="2746"/></g>
<g id="n211_136"><use href="#d" x="211" y="2766"/></g>
<g id="n211_137"><use href="#d" x="211" y="2786"/></g>
<g id="n211_138"><use href="#d" x="211" y="2807"/></g>
<g id="n211_139"><use href="#d" x="211" y="2827"/></g>
<g id="n211_140"><use href="#d" x="211" y="2847"/></g>
<g id="n211_141"><use href="#d" x="211" y="2867"/></g>
<g id="n245_133"><use href="#d" x="245" y="2705"/></g>
<g id="n245_134"><use href="#d" x="245" y="2725"/></g>
<g id="n144_135"><use href="#d" x="144" y="2746"/></g>
<g id="n144_136"><use href="#d" x="144" y="2766"/></g>
<g id="n144_137"><use href="#d" x="144" y="2786"/></g>
<g id="n144_138"><use href="#d" x="144" y="2807"/></g>
<g id="n177_139"><use href="#d" x="177" y="2827"/></g>
<g id="n177_140"><use href="#d" x="177" y="2847"/></g>
<g id="n177_141"><use href="#d" x="177" y="2867"/></g>
<g id="n177_142"><use href="#d" x="177" y="2888"/></g>
<g id="n177_143"><use href="#d" x="177" y="2908"/></g>
<g id="n177_144"><use href="#d" x="177" y="2928"/></g>
<g id="n177_145"><use href="#d" x="177" y="2948"/></g>
<g id="n177_146"><use href="#d" x="177" y="2969"/></g>
<g id="n177_147"><use href="#d" x="177" y="2989"/></g>
<g id="n177_148"><use href="#d" x="177" y="3009"/></g>
<g id="n177_149"><use href="#d" x="177" y="3029"/></g>
<g id="n177_150"><use href="#d" x="177" y="3050"/></g>
<g id="n144_149"><use href="#d" x="144" y="3029"/></g>
<g id="n144_150"><use href="#d" x="144" y="3050"/></g>
<g id="n144_151"><use href="#d" x="144" y="3070"/></g>
<g id="n144_152"><use href="#d" x="144" y="3090"/></g>
<g id="n111_151"><use href="#d" x="111" y="3070"/></g>
<g id="n111_152"><use href="#d" x="111" y="3090"/></g>
<g id="n227_142"><use href="#d" x="227" y="2888"/></g>
<g id="n227_143"><use href="#d" x="227" y="2908"/></g>
<g id="n227_144"><use href="#d" x="227" y="2928"/></g>
<g id="n227_145"><use href="#d" x="227" y="2948"/></g>
<g id="n227_146"><use href="#d" x="227" y="2969"/></g>
<g id="n261_143"><use href="#d" x="261" y="2908"/></g>
<g id="n261_144"><use href="#d" x="261" y="2928"/></g>
<g id="n261_145"><use href="#d" x="261" y="2948"/></g>
<g id="n261_146"><use href="#d" x="261" y="2969"/></g>
<g id="n231_147"><use href="#d" x="231" y="2989"/></g>
<g id="n239_148"><use href="#d" x="239" y="3009"/></g>
<g id="n211_149"><use href="#d" x="211" y="3029"/></g>
<g id="n211_150"><use href="#d" x="211" y="3050"/></g>
<g id="n211_151"><use href="#d" x="211" y="3070"/></g>
<g id="n211_152"><use href="#d" x="211" y="3090"/></g>
<g id="n211_153"><use href="#d" x="211" y="3110"/></g>
<g id="n211_154"><use href="#d" x="211" y="3131"/></g>
<g id="n245_149"><use href="#d" x="245" y="3029"/></g>
<g id="n245_150"><use href="#d" x="245" y="3050"/></g>
<g id="n245_151"><use href="#d" x="245" y="3070"/></g>
<g id="n245_152"><use href="#d" x="245" y="3090"/></g>
<g id="n278_149"><use href="#d" x="278" y="3029"/></g>
<g id="n278_150"><use href="#d" x="278" y="3050"/></g>
<g id="n177_151"><use href="#d" x="177" y="3070"/></g>
<g id="n177_152"><use href="#d" x="177" y="3090"/></g>
<g id="n177_153"><use href="#d" x="177" y="3110"/></g>
<g id="n177_154"><use href="#d" x="177" y="3131"/></g>
<g id="n177_155"><use href="#d" x="177" y="3151"/></g>
<g id="n177_156"><use href="#d" x="177" y="3171"/></g>
<g id="n412_99"><use href="#d" x="412" y="2016"/></g>
<g id="n412_100"><use href="#d" x="412" y="2037"/></g>
<g id="n412_101"><use href="#d" x="412" y="2057"/></g>
<g id="n412_102"><use href="#d" x="412" y="2077"/></g>
<g id="n412_103"><use href="#d" x="412" y="2097"/></g>
<g id="n412_104"><use href="#d" x="412" y="2118"/></g>
<g id="n412_105"><use href="#d" x="412" y="2138"/></g>
<g id="n412_106"><use href="#d" x="412" y="2158"/></g>
<g id="n479_97"><use href="#d" x="479" y="1976"/></g>
<g id="n479_98"><use href="#d" x="479" y="1996"/></g>
<g id="n479_99"><use href="#d" x="479" y="2016"/></g>
<g id="n479_100"><use href="#d" x="479" y="2037"/></g>
<g id="n479_101"><use href="#d" x="479" y="2057"/></g>
<g id="n479_102"><use href="#d" x="479" y="2077"/></g>
<g id="n479_103"><use href="#d" x="479" y="2097"/></g>
<g id="n479_104"><use href="#d" x="479" y="2118"/></g>
<g id="n430_107"><use href="#d" x="430" y="2178"/></g>
<g id="n430_108"><use href="#d" x="430" y="2199"/></g>
<g id="n430_109"><use href="#d" x="430" y="2219"/></g>
<g id="n430_110"><use href="#d" x="430" y="2239"/></g>
<g id="n430_111"><use href="#d" x="430" y="2259"/></g>
<g id="n430_112"><use href="#d" x="430" y="2280"/></g>
<g id="n396_107"><use href="#d" x="396" y="2178"/></g>
<g id="n396_108"><use href="#d" x="396" y="2199"/></g>
<g id="n396_109"><use href="#d" x="396" y="2219"/></g>
<g id="n396_110"><use href="#d" x="396" y="2239"/></g>
<g id="n396_111"><use href="#d" x="396" y="2259"/></g>
<g id="n396_112"><use href="#d" x="396" y="2280"/></g>
<g id="n396_113"><use href="#d" x="396" y="2300"/></g>
<g id="n396_114"><use href="#d" x="396" y="2320"/></g>
<g id="n363_109"><use href="#d" x="363" y="2219"/></g>
<g id="n363_110"><use href="#d" x="363" y="2239"/></g>
<g id="n363_111"><use href="#d" x="363" y="2259"/></g>
<g id="n363_112"><use href="#d" x="363" y="2280"/></g>
<g id="n363_113"><use href="#d" x="363" y="2300"/></g>
<g id="n363_114"><use href="#d" x="363" y="2320"/></g>
<g id="n363_115"><use href="#d" x="363" y="2340"/></g>
<g id="n363_116"><use href="#d" x="363" y="2361"/></g>
<g id="n363_117"><use href="#d" x="363" y="2381"/></g>
<g id="n363_118"><use href="#d" x="363" y="2401"/></g>
<g id="n363_119"><use href="#d" x="363" y="2422"/></g>
<g id="n363_120"><use href="#d" x="363" y="2442"/></g>
<g id="n333_121"><use href="#d" x="333" y="2462"/></g>
<g id="n333_122"><use href="#d" x="333" y="2482"/></g>
<g id="n333_123"><use href="#d" x="333" y="2503"/></g>
<g id="n333_124"><use href="#d" x="333" y="2523"/></g>
<g id="n333_125"><use href="#d" x="333" y="2543"/></g>
<g id="n333_126"><use href="#d" x="333" y="2563"/></g>
<g id="n333_127"><use href="#d" x="333" y="2584"/></g>
<g id="n333_128"><use href="#d" x="333" y="2604"/></g>
<g id="n366_121"><use href="#d" x="366" y="2462"/></g>
<g id="n366_122"><use href="#d" x="366" y="2482"/></g>
<g id="n366_123"><use href="#d" x="366" y="2503"/></g>
<g id="n366_124"><use href="#d" x="366" y="2523"/></g>
<g id="n366_125"><use href="#d" x="366" y="2543"/></g>
<g id="n366_126"><use href="#d" x="366" y="2563"/></g>
<g id="n366_127"><use href="#d" x="366" y="2584"/></g>
<g id="n366_128"><use href="#d" x="366" y="2604"/></g>
<g id="n300_127"><use href="#d" x="300" y="2584"/></g>
<g id="n300_128"><use href="#d" x="300" y="2604"/></g>
<g id="n304_129"><use href="#d" x="304" y="2624"/></g>
<g id="n304_130"><use href="#d" x="304" y="2644"/></g>
<g id="n337_129"><use href="#d" x="337" y="2624"/></g>
<g id="n337_130"><use href="#d" x="337" y="2644"/></g>
<g id="n278_131"><use href="#d" x="278" y="2665"/></g>
<g id="n278_132"><use href="#d" x="278" y="2685"/></g>
<g id="n278_133"><use href="#d" x="278" y="2705"/></g>
<g id="n278_134"><use href="#d" x="278" y="2725"/></g>
<g id="n311_131"><use href="#d" x="311" y="2665"/></g>
<g id="n311_132"><use href="#d" x="311" y="2685"/></g>
<g id="n311_133"><use href="#d" x="311" y="2705"/></g>
<g id="n311_134"><use href="#d" x="311" y="2725"/></g>
<g id="n345_133"><use href="#d" x="345" y="2705"/></g>
<g id="n345_134"><use href="#d" x="345" y="2725"/></g>
<g id="n345_135"><use href="#d" x="345" y="2746"/></g>
<g id="n345_136"><use href="#d" x="345" y="2766"/></g>
<g id="n345_137"><use href="#d" x="345" y="2786"/></g>
<g id="n345_138"><use href="#d" x="345" y="2807"/></g>
<g id="n345_139"><use href="#d" x="345" y="2827"/></g>
<g id="n345_140"><use href="#d" x="345" y="2847"/></g>
<g id="n345_141"><use href="#d" x="345" y="2867"/></g>
<g id="n345_142"><use href="#d" x="345" y="2888"/></g>
<g id="n345_143"><use href="#d" x="345" y="2908"/></g>
<g id="n345_144"><use href="#d" x="345" y="2928"/></g>
<g id="n345_145"><use href="#d" x="345" y="2948"/></g>
<g id="n345_146"><use href="#d" x="345" y="2969"/></g>
<g id="n345_147"><use href="#d" x="345" y="2989"/></g>
<g id="n345_148"><use href="#d" x="345" y="3009"/></g>
<g id="n345_149"><use href="#d" x="345" y="3029"/></g>
<g id="n345_150"><use href="#d" x="345" y="3050"/></g>
<g id="n345_151"><use href="#d" x="345" y="3070"/></g>
<g id="n345_152"><use href="#d" x="345" y="3090"/></g>
<g id="n345_153"><use href="#d" x="345" y="3110"/></g>
<g id="n345_154"><use href="#d" x="345" y="3131"/></g>
<g id="n311_139"><use href="#d" x="311" y="2827"/></g>
<g id="n311_140"><use href="#d" x="311" y="2847"/></g>
<g id="n311_149"><use href="#d" x="311" y="3029"/></g>
<g id="n311_150"><use href="#d" x="311" y="3050"/></g>
<g id="n311_151"><use href="#d" x="311" y="3070"/></g>
<g id="n311_152"><use href="#d" x="311" y="3090"/></g>
<g id="n311_153"><use href="#d" x="311" y="3110"/></g>
<g id="n311_154"><use href="#d" x="311" y="3131"/></g>
<g id="n311_155"><use href="#d" x="311" y="3151"/></g>
<g id="n311_156"><use href="#d" x="311" y="3171"/></g>
<g id="n311_157"><use href="#d" x="311" y="3192"/></g>
<g id="n311_158"><use href="#d" x="311" y="3212"/></g>
<g id="n311_159"><use href="#d" x="311" y="3232"/></g>
<g id="n311_160"><use href="#d" x="311" y="3252"/></g>
<g id="n379_151"><use href="#d" x="379" y="3070"/></g>
<g id="n379_152"><use href="#d" x="379" y="3090"/></g>
<g id="n646_99"><use href="#d" x="646" y="2016"/></g>
<g id="n646_100"><use href="#d" x="646" y="2037"/></g>
<g id="n646_101"><use href="#d" x="646" y="2057"/></g>
<g id="n646_102"><use href="#d" x="646" y="2077"/></g>
<g id="n613_105"><use href="#d" x="613" y="2138"/></g>
<g id="n613_106"><use href="#d" x="613" y="2158"/></g>
<g id="n646_103"><use href="#d" x="646" y="2097"/></g>
<g id="n646_104"><use href="#d" x="646" y="2118"/></g>
<g id="n646_105"><use href="#d" x="646" y="2138"/></g>
<g id="n646_106"><use href="#d" x="646" y="2158"/></g>
<g id="n646_107"><use href="#d" x="646" y="2178"/></g>
<g id="n646_108"><use href="#d" x="646" y="2199"/></g>
<g id="n680_105"><use href="#d" x="680" y="2138"/></g>
<g id="n680_106"><use href="#d" x="680" y="2158"/></g>
<g id="n680_107"><use href="#d" x="680" y="2178"/></g>
<g id="n680_108"><use href="#d" x="680" y="2199"/></g>
<g id="n680_109"><use href="#d" x="680" y="2219"/></g>
<g id="n680_110"><use href="#d" x="680" y="2239"/></g>
<g id="n680_111"><use href="#d" x="680" y="2259"/></g>
<g id="n680_112"><use href="#d" x="680" y="2280"/></g>
<g id="n680_113"><use href="#d" x="680" y="2300"/></g>
<g id="n680_114"><use href="#d" x="680" y="2320"/></g>
<g id="n680_115"><use href="#d" x="680" y="2340"/></g>
<g id="n680_116"><use href="#d" x="680" y="2361"/></g>
<g id="n680_117"><use href="#d" x="680" y="2381"/></g>
<g id="n680_118"><use href="#d" x="680" y="2401"/></g>
<g id="n680_119"><use href="#d" x="680" y="2422"/></g>
<g id="n680_120"><use href="#d" x="680" y="2442"/></g>
<g id="n680_121"><use href="#d" x="680" y="2462"/></g>
<g id="n680_122"><use href="#d" x="680" y="2482"/></g>
<g id="n680_123"><use href="#d" x="680" y="2503"/></g>
<g id="n680_124"><use href="#d" x="680" y="2523"/></g>
<g id="n680_125"><use href="#d" x="680" y="2543"/></g>
<g id="n680_126"><use href="#d" x="680" y="2563"/></g>
<g id="n613_107"><use href="#d" x="613" y="2178"/></g>
<g id="n613_108"><use href="#d" x="613" y="2199"/></g>
<g id="n613_109"><use href="#d" x="613" y="2219"/></g>
<g id="n613_110"><use href="#d" x="613" y="2239"/></g>
<g id="n586_111"><use href="#d" x="586" y="2259"/></g>
<g id="n586_112"><use href="#d" x="586" y="2280"/></g>
<g id="n586_113"><use href="#d" x="586" y="2300"/></g>
<g id="n586_114"><use href="#d" x="586" y="2320"/></g>
<g id="n586_115"><use href="#d" x="586" y="2340"/></g>
<g id="n586_116"><use href="#d" x="586" y="2361"/></g>
<g id="n586_117"><use href="#d" x="586" y="2381"/></g>
<g id="n586_118"><use href="#d" x="586" y="2401"/></g>
<g id="n586_119"><use href="#d" x="586" y="2422"/></g>
<g id="n586_120"><use href="#d" x="586" y="2442"/></g>
<g id="n619_111"><use href="#d" x="619" y="2259"/></g>
<g id="n619_112"><use href="#d" x="619" y="2280"/></g>
<g id="n619_113"><use href="#d" x="619" y="2300"/></g>
<g id="n619_114"><use href="#d" x="619" y="2320"/></g>
<g id="n619_115"><use href="#d" x="619" y="2340"/></g>
<g id="n619_116"><use href="#d" x="619" y="2361"/></g>
<g id="n619_117"><use href="#d" x="619" y="2381"/></g>
<g id="n619_118"><use href="#d" x="619" y="2401"/></g>
<g id="n619_119"><use href="#d" x="619" y="2422"/></g>
<g id="n619_120"><use href="#d" x="619" y="2442"/></g>
<g id="n619_121"><use href="#d" x="619" y="2462"/></g>
<g id="n619_122"><use href="#d" x="619" y="2482"/></g>
<g id="n553_113"><use href="#d" x="553" y="2300"/></g>
<g id="n553_114"><use href="#d" x="553" y="2320"/></g>
<g id="n553_115"><use href="#d" x="553" y="2340"/></g>
<g id="n553_116"><use href="#d" x="553" y="2361"/></g>
<g id="n553_117"><use href="#d" x="553" y="2381"/></g>
<g id="n553_118"><use href="#d" x="553" y="2401"/></g>
<g id="n553_119"><use href="#d" x="553" y="2422"/></g>
<g id="n553_120"><use href="#d" x="553" y="2442"/></g>
<g id="n553_121"><use href="#d" x="553" y="2462"/></g>
<g id="n553_122"><use href="#d" x="553" y="2482"/></g>
<g id="n553_123"><use href="#d" x="553" y="2503"/></g>
<g id="n553_124"><use href="#d" x="553" y="2523"/></g>
<g id="n553_125"><use href="#d" x="553" y="2543"/></g>
<g id="n553_126"><use href="#d" x="553" y="2563"/></g>
<g id="n553_127"><use href="#d" x="553" y="2584"/></g>
<g id="n553_128"><use href="#d" x="553" y="2604"/></g>
<g id="n553_129"><use href="#d" x="553" y="2624"/></g>
<g id="n553_130"><use href="#d" x="553" y="2644"/></g>
<g id="n520_121"><use href="#d" x="520" y="2462"/></g>
<g id="n520_122"><use href="#d" x="520" y="2482"/></g>
<g id="n586_121"><use href="#d" x="586" y="2462"/></g>
<g id="n586_122"><use href="#d" x="586" y="2482"/></g>
<g id="n586_123"><use href="#d" x="586" y="2503"/></g>
<g id="n586_124"><use href="#d" x="586" y="2523"/></g>
<g id="n586_125"><use href="#d" x="586" y="2543"/></g>
<g id="n586_126"><use href="#d" x="586" y="2563"/></g>
<g id="n586_127"><use href="#d" x="586" y="2584"/></g>
<g id="n586_128"><use href="#d" x="586" y="2604"/></g>
<g id="n520_123"><use href="#d" x="520" y="2503"/></g>
<g id="n520_124"><use href="#d" x="520" y="2523"/></g>
<g id="n520_127"><use href="#d" x="520" y="2584"/></g>
<g id="n520_128"><use href="#d" x="520" y="2604"/></g>
<g id="n520_129"><use href="#d" x="520" y="2624"/></g>
<g id="n520_130"><use href="#d" x="520" y="2644"/></g>
<g id="n520_131"><use href="#d" x="520" y="2665"/></g>
<g id="n520_132"><use href="#d" x="520" y="2685"/></g>
<g id="n520_133"><use href="#d" x="520" y="2705"/></g>
<g id="n520_134"><use href="#d" x="520" y="2725"/></g>
<g id="n520_135"><use href="#d" x="520" y="2746"/></g>
<g id="n520_136"><use href="#d" x="520" y="2766"/></g>
<g id="n502_137"><use href="#d" x="502" y="2786"/></g>
<g id="n502_138"><use href="#d" x="502" y="2807"/></g>
<g id="n536_137"><use href="#d" x="536" y="2786"/></g>
<g id="n536_138"><use href="#d" x="536" y="2807"/></g>
<g id="n536_139"><use href="#d" x="536" y="2827"/></g>
<g id="n536_140"><use href="#d" x="536" y="2847"/></g>
<g id="n536_141"><use href="#d" x="536" y="2867"/></g>
<g id="n536_142"><use href="#d" x="536" y="2888"/></g>
<g id="n536_143"><use href="#d" x="536" y="2908"/></g>
<g id="n536_144"><use href="#d" x="536" y="2928"/></g>
<g id="n714_117"><use href="#d" x="714" y="2381"/></g>
<g id="n714_118"><use href="#d" x="714" y="2401"/></g>
<g id="n714_123"><use href="#d" x="714" y="2503"/></g>
<g id="n714_124"><use href="#d" x="714" y="2523"/></g>
<g id="n714_125"><use href="#d" x="714" y="2543"/></g>
<g id="n714_126"><use href="#d" x="714" y="2563"/></g>
<g id="n714_127"><use href="#d" x="714" y="2584"/></g>
<g id="n714_128"><use href="#d" x="714" y="2604"/></g>
<g id="n714_129"><use href="#d" x="714" y="2624"/></g>
<g id="n714_130"><use href="#d" x="714" y="2644"/></g>
<g id="n714_131"><use href="#d" x="714" y="2665"/></g>
<g id="n714_132"><use href="#d" x="714" y="2685"/></g>
<g id="n747_129"><use href="#d" x="747" y="2624"/></g>
<g id="n747_130"><use href="#d" x="747" y="2644"/></g>
<g id="n747_131"><use href="#d" x="747" y="2665"/></g>
<g id="n747_132"><use href="#d" x="747" y="2685"/></g>
<g id="n747_133"><use href="#d" x="747" y="2705"/></g>
<g id="n747_134"><use href="#d" x="747" y="2725"/></g>
<g id="n747_135"><use href="#d" x="747" y="2746"/></g>
<g id="n747_136"><use href="#d" x="747" y="2766"/></g>
<g id="n747_137"><use href="#d" x="747" y="2786"/></g>
<g id="n747_138"><use href="#d" x="747" y="2807"/></g>
<g id="n747_139"><use href="#d" x="747" y="2827"/></g>
<g id="n747_140"><use href="#d" x="747" y="2847"/></g>
<g id="n747_141"><use href="#d" x="747" y="2867"/></g>
<g id="n747_142"><use href="#d" x="747" y="2888"/></g>
<g id="n747_143"><use href="#d" x="747" y="2908"/></g>
<g id="n747_144"><use href="#d" x="747" y="2928"/></g>
<g id="n747_145"><use href="#d" x="747" y="2948"/></g>
<g id="n747_146"><use href="#d" x="747" y="2969"/></g>
<g id="n680_131"><use href="#d" x="680" y="2665"/></g>
<g id="n680_132"><use href="#d" x="680" y="2685"/></g>
<g id="n680_133"><use href="#d" x="680" y="2705"/></g>
<g id="n680_134"><use href="#d" x="680" y="2725"/></g>
<g id="n680_135"><use href="#d" x="680" y="2746"/></g>
<g id="n680_136"><use href="#d" x="680" y="2766"/></g>
<g id="n680_137"><use href="#d" x="680" y="2786"/></g>
<g id="n680_138"><use href="#d" x="680" y="2807"/></g>
<g id="n714_137"><use href="#d" x="714" y="2786"/></g>
<g id="n714_138"><use href="#d" x="714" y="2807"/></g>
<g id="n714_139"><use href="#d" x="714" y="2827"/></g>
<g id="n714_140"><use href="#d" x="714" y="2847"/></g>
<g id="n714_145"><use href="#d" x="714" y="2948"/></g>
<g id="n714_146"><use href="#d" x="714" y="2969"/></g>
<g id="n714_147"><use href="#d" x="714" y="2989"/></g>
<g id="n714_148"><use href="#d" x="714" y="3009"/></g>
<g id="n714_149"><use href="#d" x="714" y="3029"/></g>
<g id="n714_150"><use href="#d" x="714" y="3050"/></g>
<g id="n714_151"><use href="#d" x="714" y="3070"/></g>
<g id="n714_152"><use href="#d" x="714" y="3090"/></g>
<g id="n714_153"><use href="#d" x="714" y="3110"/></g>
<g id="n714_154"><use href="#d" x="714" y="3131"/></g>
<g id="n714_155"><use href="#d" x="714" y="3151"/></g>
<g id="n714_156"><use href="#d" x="714" y="3171"/></g>
<g id="n680_151"><use href="#d" x="680" y="3070"/></g>
<g id="n680_152"><use href="#d" x="680" y="3090"/></g>
<g id="n680_153"><use href="#d" x="680" y="3110"/></g>
<g id="n680_154"><use href="#d" x="680" y="3131"/></g>
<g id="n680_155"><use href="#d" x="680" y="3151"/></g>
<g id="n680_156"><use href="#d" x="680" y="3171"/></g>
<g id="n680_157"><use href="#d" x="680" y="3192"/></g>
<g id="n680_158"><use href="#d" x="680" y="3212"/></g>
<g id="n798_133"><use href="#d" x="798" y="2705"/></g>
<g id="n814_134"><use href="#d" x="814" y="2725"/></g>
<g id="n797_135"><use href="#d" x="797" y="2746"/></g>
<g id="n797_136"><use href="#d" x="797" y="2766"/></g>
<g id="n797_137"><use href="#d" x="797" y="2786"/></g>
<g id="n797_138"><use href="#d" x="797" y="2807"/></g>
<g id="n797_139"><use href="#d" x="797" y="2827"/></g>
<g id="n797_140"><use href="#d" x="797" y="2847"/></g>
<g id="n797_141"><use href="#d" x="797" y="2867"/></g>
<g id="n797_142"><use href="#d" x="797" y="2888"/></g>
<g id="n830_135"><use href="#d" x="830" y="2746"/></g>
<g id="n830_136"><use href="#d" x="830" y="2766"/></g>
<g id="n863_135"><use href="#d" x="863" y="2746"/></g>
<g id="n873_136"><use href="#d" x="873" y="2766"/></g>
<g id="n873_137"><use href="#d" x="873" y="2786"/></g>
<g id="n873_138"><use href="#d" x="873" y="2807"/></g>
<g id="n873_139"><use href="#d" x="873" y="2827"/></g>
<g id="n873_140"><use href="#d" x="873" y="2847"/></g>
<g id="n873_141"><use href="#d" x="873" y="2867"/></g>
<g id="n873_142"><use href="#d" x="873" y="2888"/></g>
<g id="n873_143"><use href="#d" x="873" y="2908"/></g>
<g id="n873_144"><use href="#d" x="873" y="2928"/></g>
<g id="n906_137"><use href="#d" x="906" y="2786"/></g>
<g id="n906_138"><use href="#d" x="906" y="2807"/></g>
<g id="n906_139"><use href="#d" x="906" y="2827"/></g>
<g id="n906_140"><use href="#d" x="906" y="2847"/></g>
<g id="n906_141"><use href="#d" x="906" y="2867"/></g>
<g id="n906_142"><use href="#d" x="906" y="2888"/></g>
<g id="n906_143"><use href="#d" x="906" y="2908"/></g>
<g id="n907_144"><use href="#d" x="907" y="2928"/></g>
<g id="n909_145"><use href="#d" x="909" y="2948"/></g>
<g id="n914_146"><use href="#d" x="914" y="2969"/></g>
<g id="n914_147"><use href="#d" x="914" y="2989"/></g>
<g id="n914_148"><use href="#d" x="914" y="3009"/></g>
<g id="n915_149"><use href="#d" x="915" y="3029"/></g>
<g id="n915_150"><use href="#d" x="915" y="3050"/></g>
<g id="n915_151"><use href="#d" x="915" y="3070"/></g>
<g id="n915_152"><use href="#d" x="915" y="3090"/></g>
<g id="n948_149"><use href="#d" x="948" y="3029"/></g>
<g id="n948_150"><use href="#d" x="948" y="3050"/></g>
<g id="n948_151"><use href="#d" x="948" y="3070"/></g>
<g id="n948_152"><use href="#d" x="948" y="3090"/></g>
<g id="n948_153"><use href="#d" x="948" y="3110"/></g>
<g id="n948_154"><use href="#d" x="948" y="3131"/></g>
<g id="n948_155"><use href="#d" x="948" y="3151"/></g>
<g id="n948_156"><use href="#d" x="948" y="3171"/></g>
<g id="n948_157"><use href="#d" x="948" y="3192"/></g>
<g id="n948_158"><use href="#d" x="948" y="3212"/></g>
<g id="n793_143"><use href="#d" x="793" y="2908"/></g>
<g id="n791_144"><use href="#d" x="791" y="2928"/></g>
<g id="n789_145"><use href="#d" x="789" y="2948"/></g>
<g id="n783_146"><use href="#d" x="783" y="2969"/></g>
<g id="n781_147"><use href="#d" x="781" y="2989"/></g>
<g id="n781_148"><use href="#d" x="781" y="3009"/></g>
<g id="n781_149"><use href="#d" x="781" y="3029"/></g>
<g id="n781_150"><use href="#d" x="781" y="3050"/></g>
<g id="n781_151"><use href="#d" x="781" y="3070"/></g>
<g id="n781_152"><use href="#d" x="781" y="3090"/></g>
<g id="n781_153"><use href="#d" x="781" y="3110"/></g>
<g id="n781_154"><use href="#d" x="781" y="3131"/></g>
<g id="n781_155"><use href="#d" x="781" y="3151"/></g>
<g id="n781_156"><use href="#d" x="781" y="3171"/></g>
<g id="n781_157"><use href="#d" x="781" y="3192"/></g>
<g id="n781_158"><use href="#d" x="781" y="3212"/></g>
<g id="n814_153"><use href="#d" x="814" y="3110"/></g>
<g id="n814_154"><use href="#d" x="814" y="3131"/></g>
<g id="n814_155"><use href="#d" x="814" y="3151"/></g>
<g id="n814_156"><use href="#d" x="814" y="3171"/></g>
<g id="n814_157"><use href="#d" x="814" y="3192"/></g>
<g id="n814_158"><use href="#d" x="814" y="3212"/></g>
<g id="n848_155"><use href="#d" x="848" y="3151"/></g>
<g id="n848_156"><use href="#d" x="848" y="3171"/></g>
<g id="n890_157"><use href="#d" x="890" y="3192"/></g>
<g id="n898_158"><use href="#d" x="898" y="3212"/></g>
<g id="n898_159"><use href="#d" x="898" y="3232"/></g>
<g id="n898_160"><use href="#d" x="898" y="3252"/></g>
<g id="n848_157"><use href="#d" x="848" y="3192"/></g>
<g id="n848_158"><use href="#d" x="848" y="3212"/></g>
<g id="n830_159"><use href="#d" x="830" y="3232"/></g>
<g id="n830_160"><use href="#d" x="830" y="3252"/></g>
<g id="n830_161"><use href="#d" x="830" y="3273"/></g>
<g id="n830_162"><use href="#d" x="830" y="3293"/></g>
<g id="n865_159"><use href="#d" x="865" y="3232"/></g>
<g id="n865_160"><use href="#d" x="865" y="3252"/></g>
<g id="n865_161"><use href="#d" x="865" y="3273"/></g>
<g id="n865_162"><use href="#d" x="865" y="3293"/></g>
<g id="n865_163"><use href="#d" x="865" y="3313"/></g>
<g id="n865_164"><use href="#d" x="865" y="3333"/></g>
<g id="n798_159"><use href="#d" x="798" y="3232"/></g>
<g id="n798_160"><use href="#d" x="798" y="3252"/></g>
<g id="n798_161"><use href="#d" x="798" y="3273"/></g>
<g id="n798_162"><use href="#d" x="798" y="3293"/></g>
<g id="n747_155"><use href="#d" x="747" y="3151"/></g>
<g id="n747_156"><use href="#d" x="747" y="3171"/></g>
<g id="n747_157"><use href="#d" x="747" y="3192"/></g>
<g id="n747_158"><use href="#d" x="747" y="3212"/></g>
<g id="n747_159"><use href="#d" x="747" y="3232"/></g>
<g id="n747_160"><use href="#d" x="747" y="3252"/></g>
<g id="n833_143"><use href="#d" x="833" y="2908"/></g>
<g id="n839_144"><use href="#d" x="839" y="2928"/></g>
<g id="n841_145"><use href="#d" x="841" y="2948"/></g>
<g id="n844_146"><use href="#d" x="844" y="2969"/></g>
<g id="n844_147"><use href="#d" x="844" y="2989"/></g>
<g id="n844_148"><use href="#d" x="844" y="3009"/></g>
<g id="n879_147"><use href="#d" x="879" y="2989"/></g>
<g id="n881_148"><use href="#d" x="881" y="3009"/></g>
<g id="n881_149"><use href="#d" x="881" y="3029"/></g>
<g id="n881_150"><use href="#d" x="881" y="3050"/></g>
<g id="n814_149"><use href="#d" x="814" y="3029"/></g>
<g id="n814_150"><use href="#d" x="814" y="3050"/></g>
<g id="n848_149"><use href="#d" x="848" y="3029"/></g>
<g id="n848_150"><use href="#d" x="848" y="3050"/></g>
<g id="n856_151"><use href="#d" x="856" y="3070"/></g>
<g id="n873_152"><use href="#d" x="873" y="3090"/></g>
<g id="n877_153"><use href="#d" x="877" y="3110"/></g>
<g id="n881_154"><use href="#d" x="881" y="3131"/></g>
<g id="n881_155"><use href="#d" x="881" y="3151"/></g>
<g id="n881_156"><use href="#d" x="881" y="3171"/></g>
<g id="n507_145"><use href="#d" x="507" y="2948"/></g>
<g id="n491_146"><use href="#d" x="491" y="2969"/></g>
<g id="n482_147"><use href="#d" x="482" y="2989"/></g>
<g id="n481_148"><use href="#d" x="481" y="3009"/></g>
<g id="n481_149"><use href="#d" x="481" y="3029"/></g>
<g id="n481_150"><use href="#d" x="481" y="3050"/></g>
<g id="n446_149"><use href="#d" x="446" y="3029"/></g>
<g id="n446_150"><use href="#d" x="446" y="3050"/></g>
<g id="n446_151"><use href="#d" x="446" y="3070"/></g>
<g id="n446_152"><use href="#d" x="446" y="3090"/></g>
<g id="n412_151"><use href="#d" x="412" y="3070"/></g>
<g id="n412_152"><use href="#d" x="412" y="3090"/></g>
<g id="n412_153"><use href="#d" x="412" y="3110"/></g>
<g id="n412_154"><use href="#d" x="412" y="3131"/></g>
<g id="n479_151"><use href="#d" x="479" y="3070"/></g>
<g id="n479_152"><use href="#d" x="479" y="3090"/></g>
<g id="n479_153"><use href="#d" x="479" y="3110"/></g>
<g id="n479_154"><use href="#d" x="479" y="3131"/></g>
<g id="n512_151"><use href="#d" x="512" y="3070"/></g>
<g id="n512_152"><use href="#d" x="512" y="3090"/></g>
<g id="n512_153"><use href="#d" x="512" y="3110"/></g>
<g id="n512_154"><use href="#d" x="512" y="3131"/></g>
<g id="n512_155"><use href="#d" x="512" y="3151"/></g>
<g id="n512_156"><use href="#d" x="512" y="3171"/></g>
<g id="n479_155"><use href="#d" x="479" y="3151"/></g>
<g id="n479_156"><use href="#d" x="479" y="3171"/></g>
<g id="n479_157"><use href="#d" x="479" y="3192"/></g>
<g id="n479_158"><use href="#d" x="479" y="3212"/></g>
<g id="n479_159"><use href="#d" x="479" y="3232"/></g>
<g id="n479_160"><use href="#d" x="479" y="3252"/></g>
<g id="n446_157"><use href="#d" x="446" y="3192"/></g>
<g id="n446_158"><use href="#d" x="446" y="3212"/></g>
<g id="n546_155"><use href="#d" x="546" y="3151"/></g>
<g id="n546_156"><use href="#d" x="546" y="3171"/></g>
<g id="n546_157"><use href="#d" x="546" y="3192"/></g>
<g id="n546_158"><use href="#d" x="546" y="3212"/></g>
<g id="n546_159"><use href="#d" x="546" y="3232"/></g>
<g id="n546_160"><use href="#d" x="546" y="3252"/></g>
<g id="n512_157"><use href="#d" x="512" y="3192"/></g>
<g id="n512_158"><use href="#d" x="512" y="3212"/></g>
<g id="n512_159"><use href="#d" x="512" y="3232"/></g>
<g id="n512_160"><use href="#d" x="512" y="3252"/></g>
<g id="n512_161"><use href="#d" x="512" y="3273"/></g>
<g id="n512_162"><use href="#d" x="512" y="3293"/></g>
<g id="n512_163"><use href="#d" x="512" y="3313"/></g>
<g id="n512_164"><use href="#d" x="512" y="3333"/></g>
<g id="n512_165"><use href="#d" x="512" y="3354"/></g>
<g id="n512_166"><use href="#d" x="512" y="3374"/></g>
<g id="n542_145"><use href="#d" x="542" y="2948"/></g>
<g id="n546_146"><use href="#d" x="546" y="2969"/></g>
<g id="n546_147"><use href="#d" x="546" y="2989"/></g>
<g id="n546_148"><use href="#d" x="546" y="3009"/></g>
<g id="n546_149"><use href="#d" x="546" y="3029"/></g>
<g id="n546_150"><use href="#d" x="546" y="3050"/></g>
<g id="n546_151"><use href="#d" x="546" y="3070"/></g>
<g id="n546_152"><use href="#d" x="546" y="3090"/></g>
<g id="n580_147"><use href="#d" x="580" y="2989"/></g>
<g id="n580_148"><use href="#d" x="580" y="3009"/></g>
<g id="n580_149"><use href="#d" x="580" y="3029"/></g>
<g id="n580_150"><use href="#d" x="580" y="3050"/></g>
<g id="n580_151"><use href="#d" x="580" y="3070"/></g>
<g id="n580_152"><use href="#d" x="580" y="3090"/></g>
<g id="n580_153"><use href="#d" x="580" y="3110"/></g>
<g id="n580_154"><use href="#d" x="580" y="3131"/></g>
<g id="n580_155"><use href="#d" x="580" y="3151"/></g>
<g id="n580_156"><use href="#d" x="580" y="3171"/></g>
<g id="n580_157"><use href="#d" x="580" y="3192"/></g>
<g id="n580_158"><use href="#d" x="580" y="3212"/></g>
<g id="n580_159"><use href="#d" x="580" y="3232"/></g>
<g id="n580_160"><use href="#d" x="580" y="3252"/></g>
<g id="n580_161"><use href="#d" x="580" y="3273"/></g>
<g id="n580_162"><use href="#d" x="580" y="3293"/></g>
<g id="n580_163"><use href="#d" x="580" y="3313"/></g>
<g id="n580_164"><use href="#d" x="580" y="3333"/></g>
<g id="n580_165"><use href="#d" x="580" y="3354"/></g>
<g id="n580_166"><use href="#d" x="580" y="3374"/></g>
<g id="n613_155"><use href="#d" x="613" y="3151"/></g>
<g id="n613_156"><use href="#d" x="613" y="3171"/></g>
<g id="n613_157"><use href="#d" x="613" y="3192"/></g>
<g id="n613_158"><use href="#d" x="613" y="3212"/></g>
<g id="n613_159"><use href="#d" x="613" y="3232"/></g>
<g id="n613_160"><use href="#d" x="613" y="3252"/></g>
<g id="n613_161"><use href="#d" x="613" y="3273"/></g>
<g id="n613_162"><use href="#d" x="613" y="3293"/></g>
<g id="n646_157"><use href="#d" x="646" y="3192"/></g>
<g id="n646_158"><use href="#d" x="646" y="3212"/></g>
<g id="n646_159"><use href="#d" x="646" y="3232"/></g>
<g id="n646_160"><use href="#d" x="646" y="3252"/></g>
<g id="n646_161"><use href="#d" x="646" y="3273"/></g>
<g id="n646_162"><use href="#d" x="646" y="3293"/></g>
<g id="n646_163"><use href="#d" x="646" y="3313"/></g>
<g id="n646_164"><use href="#d" x="646" y="3333"/></g>
<g id="n646_165"><use href="#d" x="646" y="3354"/></g>
<g id="n646_166"><use href="#d" x="646" y="3374"/></g>
<g id="n646_167"><use href="#d" x="646" y="3394"/></g>
<g id="n646_168"><use href="#d" x="646" y="3414"/></g>
<g id="n613_163"><use href="#d" x="613" y="3313"/></g>
<g id="n613_164"><use href="#d" x="613" y="3333"/></g>
<g id="n546_165"><use href="#d" x="546" y="3354"/></g>
<g id="n546_166"><use href="#d" x="546" y="3374"/></g>
<g id="n546_167"><use href="#d" x="546" y="3394"/></g>
<g id="n546_168"><use href="#d" x="546" y="3414"/></g>
<g id="n613_165"><use href="#d" x="613" y="3354"/></g>
<g id="n613_166"><use href="#d" x="613" y="3374"/></g>
<g id="n613_167"><use href="#d" x="613" y="3394"/></g>
<g id="n613_168"><use href="#d" x="613" y="3414"/></g>
</g>
</svg>
